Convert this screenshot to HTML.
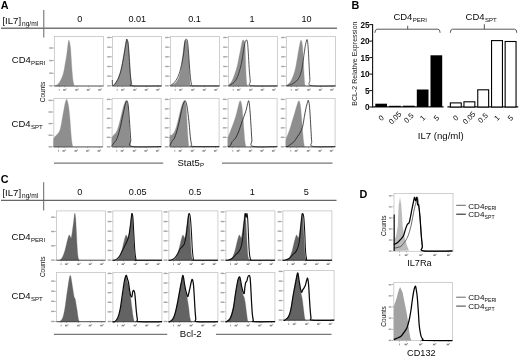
<!DOCTYPE html>
<html><head><meta charset="utf-8"><style>
html,body{margin:0;padding:0;background:#fff;width:520px;height:358px;overflow:hidden}
svg{display:block}
text{font-family:"Liberation Sans", sans-serif}
</style></head><body>
<svg width="520" height="358" viewBox="0 0 520 358">
<defs><filter id="bl" x="0" y="0" width="100%" height="100%"><feGaussianBlur stdDeviation="0.3"/></filter></defs>
<rect width="520" height="358" fill="#fff"/>
<g filter="url(#bl)">
<rect width="520" height="358" fill="#fff"/>
<text transform="translate(0.8,8.9) scale(1,1.0)" font-size="10.8" text-anchor="start" font-weight="bold" fill="#000" >A</text>
<text transform="translate(2.4,23.6) scale(1,1.0)" font-size="9.6" fill="#0a0a0a">[IL7]<tspan font-size="6.6" dx="0.9" dy="2.1">ng/ml</tspan></text>
<line x1="43.8" y1="10" x2="43.8" y2="37.5" stroke="#555" stroke-width="0.9"/>
<line x1="1" y1="28.2" x2="337" y2="28.2" stroke="#777" stroke-width="1.5"/>
<text transform="translate(79.8,22.1) scale(1,1.0)" font-size="9.1" text-anchor="middle" font-weight="normal" fill="#0a0a0a" >0</text>
<text transform="translate(137.3,22.1) scale(1,1.0)" font-size="9.1" text-anchor="middle" font-weight="normal" fill="#0a0a0a" >0.01</text>
<text transform="translate(194.6,22.1) scale(1,1.0)" font-size="9.1" text-anchor="middle" font-weight="normal" fill="#0a0a0a" >0.1</text>
<text transform="translate(252.0,22.1) scale(1,1.0)" font-size="9.1" text-anchor="middle" font-weight="normal" fill="#0a0a0a" >1</text>
<text transform="translate(306.6,22.1) scale(1,1.0)" font-size="9.1" text-anchor="middle" font-weight="normal" fill="#0a0a0a" >10</text>
<text transform="translate(11.8,62.8) scale(1,1.0)" font-size="9.5" fill="#0a0a0a">CD4<tspan font-size="6.1" dx="0.3" dy="2.0">PERI</tspan></text>
<text transform="translate(11.6,127.2) scale(1,1.0)" font-size="9.5" fill="#0a0a0a">CD4<tspan font-size="6.1" dx="0.3" dy="2.0">SPT</tspan></text>
<text transform="translate(44.6,92) rotate(-90)" font-size="6.5" text-anchor="middle" fill="#111">Counts</text>
<rect x="54.50" y="36.50" width="49" height="49.5" fill="none" stroke="#c4c4c4" stroke-width="0.8"/>
<rect x="49.20" y="85.10" width="3.4" height="1.4" fill="#a6a6a6"/>
<rect x="52.70" y="85.50" width="1.3" height="0.6" fill="#888"/>
<rect x="49.20" y="72.50" width="3.4" height="1.4" fill="#a6a6a6"/>
<rect x="52.70" y="72.90" width="1.3" height="0.6" fill="#888"/>
<rect x="49.20" y="59.90" width="3.4" height="1.4" fill="#a6a6a6"/>
<rect x="52.70" y="60.30" width="1.3" height="0.6" fill="#888"/>
<rect x="49.20" y="47.30" width="3.4" height="1.4" fill="#a6a6a6"/>
<rect x="52.70" y="47.70" width="1.3" height="0.6" fill="#888"/>
<rect x="58.75" y="88.90" width="0.9" height="1.8" fill="#999"/>
<rect x="58.95" y="86.00" width="0.5" height="1.3" fill="#888"/>
<rect x="63.10" y="89.10" width="2.5" height="1.6" fill="#8c8c8c"/><rect x="65.60" y="88.40" width="1.0" height="1.2" fill="#a0a0a0"/>
<rect x="64.55" y="86.00" width="0.5" height="1.3" fill="#888"/>
<rect x="75.20" y="89.10" width="2.5" height="1.6" fill="#8c8c8c"/><rect x="77.70" y="88.40" width="1.0" height="1.2" fill="#a0a0a0"/>
<rect x="76.65" y="86.00" width="0.5" height="1.3" fill="#888"/>
<rect x="86.80" y="89.10" width="2.5" height="1.6" fill="#8c8c8c"/><rect x="89.30" y="88.40" width="1.0" height="1.2" fill="#a0a0a0"/>
<rect x="88.25" y="86.00" width="0.5" height="1.3" fill="#888"/>
<rect x="98.30" y="89.10" width="2.5" height="1.6" fill="#8c8c8c"/><rect x="100.80" y="88.40" width="1.0" height="1.2" fill="#a0a0a0"/>
<rect x="99.75" y="86.00" width="0.5" height="1.3" fill="#888"/>
<path d="M54.30,86.00 C54.90,85.70 56.78,85.28 57.90,84.20 C59.02,83.12 60.08,81.33 61.00,79.50 C61.92,77.67 62.75,75.57 63.40,73.20 C64.05,70.83 64.38,68.17 64.90,65.30 C65.42,62.43 66.10,58.60 66.50,56.00 C66.90,53.40 66.92,52.32 67.30,49.70 C67.68,47.08 68.28,40.83 68.80,40.30 C69.32,39.77 70.00,43.63 70.40,46.50 C70.80,49.37 70.93,53.58 71.20,57.50 C71.47,61.42 71.68,66.08 72.00,70.00 C72.32,73.92 72.72,78.40 73.10,81.00 C73.48,83.60 74.10,84.83 74.30,85.60Z" fill="#8e8e8e" stroke="#8e8e8e" stroke-width="0.3" stroke-linejoin="round"/>
<line x1="54.5" y1="86" x2="103.5" y2="86" stroke="#444" stroke-width="0.8"/>
<rect x="112.50" y="36.50" width="49" height="49.5" fill="none" stroke="#c4c4c4" stroke-width="0.8"/>
<rect x="107.20" y="85.10" width="3.4" height="1.4" fill="#a6a6a6"/>
<rect x="110.70" y="85.50" width="1.3" height="0.6" fill="#888"/>
<rect x="107.20" y="75.44" width="3.4" height="1.4" fill="#a6a6a6"/>
<rect x="110.70" y="75.84" width="1.3" height="0.6" fill="#888"/>
<rect x="107.20" y="65.78" width="3.4" height="1.4" fill="#a6a6a6"/>
<rect x="110.70" y="66.18" width="1.3" height="0.6" fill="#888"/>
<rect x="107.20" y="56.12" width="3.4" height="1.4" fill="#a6a6a6"/>
<rect x="110.70" y="56.52" width="1.3" height="0.6" fill="#888"/>
<rect x="107.20" y="46.46" width="3.4" height="1.4" fill="#a6a6a6"/>
<rect x="110.70" y="46.86" width="1.3" height="0.6" fill="#888"/>
<rect x="107.20" y="36.80" width="3.4" height="1.4" fill="#a6a6a6"/>
<rect x="110.70" y="37.20" width="1.3" height="0.6" fill="#888"/>
<rect x="116.75" y="88.90" width="0.9" height="1.8" fill="#999"/>
<rect x="116.95" y="86.00" width="0.5" height="1.3" fill="#888"/>
<rect x="121.10" y="89.10" width="2.5" height="1.6" fill="#8c8c8c"/><rect x="123.60" y="88.40" width="1.0" height="1.2" fill="#a0a0a0"/>
<rect x="122.55" y="86.00" width="0.5" height="1.3" fill="#888"/>
<rect x="133.20" y="89.10" width="2.5" height="1.6" fill="#8c8c8c"/><rect x="135.70" y="88.40" width="1.0" height="1.2" fill="#a0a0a0"/>
<rect x="134.65" y="86.00" width="0.5" height="1.3" fill="#888"/>
<rect x="144.80" y="89.10" width="2.5" height="1.6" fill="#8c8c8c"/><rect x="147.30" y="88.40" width="1.0" height="1.2" fill="#a0a0a0"/>
<rect x="146.25" y="86.00" width="0.5" height="1.3" fill="#888"/>
<rect x="156.30" y="89.10" width="2.5" height="1.6" fill="#8c8c8c"/><rect x="158.80" y="88.40" width="1.0" height="1.2" fill="#a0a0a0"/>
<rect x="157.75" y="86.00" width="0.5" height="1.3" fill="#888"/>
<path d="M112.30,85.70 C112.63,85.45 113.45,85.23 114.30,84.20 C115.15,83.17 116.48,81.33 117.40,79.50 C118.32,77.67 119.13,75.30 119.80,73.20 C120.47,71.10 120.88,69.25 121.40,66.90 C121.92,64.55 122.38,61.97 122.90,59.10 C123.42,56.23 123.97,52.83 124.50,49.70 C125.03,46.57 125.70,42.00 126.10,40.30 C126.50,38.60 126.52,38.98 126.90,39.50 C127.28,40.02 127.97,40.40 128.40,43.40 C128.83,46.40 129.15,52.53 129.50,57.50 C129.85,62.47 130.15,69.02 130.50,73.20 C130.85,77.38 131.23,80.52 131.60,82.60 C131.97,84.68 132.52,85.18 132.70,85.70Z" fill="#8e8e8e" stroke="#8e8e8e" stroke-width="0.3" stroke-linejoin="round"/>
<line x1="112.5" y1="86" x2="161.5" y2="86" stroke="#444" stroke-width="0.8"/>
<path d="M112.30,80.00 C112.35,80.92 112.20,84.80 112.60,85.50 C113.00,86.20 113.83,85.20 114.70,84.20 C115.57,83.20 116.88,81.33 117.80,79.50 C118.72,77.67 119.53,75.30 120.20,73.20 C120.87,71.10 121.28,69.25 121.80,66.90 C122.32,64.55 122.78,61.97 123.30,59.10 C123.82,56.23 124.37,52.83 124.90,49.70 C125.43,46.57 126.15,42.02 126.50,40.30 C126.85,38.58 126.73,38.88 127.00,39.40 C127.27,39.92 127.73,40.38 128.10,43.40 C128.47,46.42 128.85,52.53 129.20,57.50 C129.55,62.47 129.85,69.02 130.20,73.20 C130.55,77.38 130.92,80.50 131.30,82.60 C131.68,84.70 127.47,85.25 132.50,85.80 C137.53,86.35 156.67,85.88 161.50,85.90" fill="none" stroke="#222" stroke-width="0.75" stroke-linejoin="round"/>
<rect x="170.50" y="36.50" width="49" height="49.5" fill="none" stroke="#c4c4c4" stroke-width="0.8"/>
<rect x="165.20" y="85.10" width="3.4" height="1.4" fill="#a6a6a6"/>
<rect x="168.70" y="85.50" width="1.3" height="0.6" fill="#888"/>
<rect x="165.20" y="75.44" width="3.4" height="1.4" fill="#a6a6a6"/>
<rect x="168.70" y="75.84" width="1.3" height="0.6" fill="#888"/>
<rect x="165.20" y="65.78" width="3.4" height="1.4" fill="#a6a6a6"/>
<rect x="168.70" y="66.18" width="1.3" height="0.6" fill="#888"/>
<rect x="165.20" y="56.12" width="3.4" height="1.4" fill="#a6a6a6"/>
<rect x="168.70" y="56.52" width="1.3" height="0.6" fill="#888"/>
<rect x="165.20" y="46.46" width="3.4" height="1.4" fill="#a6a6a6"/>
<rect x="168.70" y="46.86" width="1.3" height="0.6" fill="#888"/>
<rect x="165.20" y="36.80" width="3.4" height="1.4" fill="#a6a6a6"/>
<rect x="168.70" y="37.20" width="1.3" height="0.6" fill="#888"/>
<rect x="174.75" y="88.90" width="0.9" height="1.8" fill="#999"/>
<rect x="174.95" y="86.00" width="0.5" height="1.3" fill="#888"/>
<rect x="179.10" y="89.10" width="2.5" height="1.6" fill="#8c8c8c"/><rect x="181.60" y="88.40" width="1.0" height="1.2" fill="#a0a0a0"/>
<rect x="180.55" y="86.00" width="0.5" height="1.3" fill="#888"/>
<rect x="191.20" y="89.10" width="2.5" height="1.6" fill="#8c8c8c"/><rect x="193.70" y="88.40" width="1.0" height="1.2" fill="#a0a0a0"/>
<rect x="192.65" y="86.00" width="0.5" height="1.3" fill="#888"/>
<rect x="202.80" y="89.10" width="2.5" height="1.6" fill="#8c8c8c"/><rect x="205.30" y="88.40" width="1.0" height="1.2" fill="#a0a0a0"/>
<rect x="204.25" y="86.00" width="0.5" height="1.3" fill="#888"/>
<rect x="214.30" y="89.10" width="2.5" height="1.6" fill="#8c8c8c"/><rect x="216.80" y="88.40" width="1.0" height="1.2" fill="#a0a0a0"/>
<rect x="215.75" y="86.00" width="0.5" height="1.3" fill="#888"/>
<path d="M170.30,85.70 C170.90,85.42 172.78,84.78 173.90,84.00 C175.02,83.22 175.97,82.80 177.00,81.00 C178.03,79.20 179.18,77.12 180.10,73.20 C181.02,69.28 181.83,62.37 182.50,57.50 C183.17,52.63 183.52,46.92 184.10,44.00 C184.68,41.08 185.42,39.67 186.00,40.00 C186.58,40.33 187.12,42.67 187.60,46.00 C188.08,49.33 188.57,55.47 188.90,60.00 C189.23,64.53 189.37,68.92 189.60,73.20 C189.83,77.48 190.18,83.62 190.30,85.70Z" fill="#8e8e8e" stroke="#8e8e8e" stroke-width="0.3" stroke-linejoin="round"/>
<line x1="170.5" y1="86" x2="219.5" y2="86" stroke="#444" stroke-width="0.8"/>
<path d="M170.40,85.70 C171.05,85.18 173.13,83.90 174.30,82.60 C175.47,81.30 176.48,79.73 177.40,77.90 C178.32,76.07 179.02,74.22 179.80,71.60 C180.58,68.98 181.45,65.33 182.10,62.20 C182.75,59.07 183.23,56.20 183.70,52.80 C184.17,49.40 184.57,44.02 184.90,41.80 C185.23,39.58 185.33,39.80 185.70,39.50 C186.07,39.20 186.70,38.83 187.10,40.00 C187.50,41.17 187.75,42.80 188.10,46.50 C188.45,50.20 188.83,57.23 189.20,62.20 C189.57,67.17 189.92,72.63 190.30,76.30 C190.68,79.97 191.08,82.62 191.50,84.20 C191.92,85.78 188.13,85.52 192.80,85.80 C197.47,86.08 215.05,85.88 219.50,85.90" fill="none" stroke="#222" stroke-width="0.75" stroke-linejoin="round"/>
<rect x="228.50" y="36.50" width="49" height="49.5" fill="none" stroke="#c4c4c4" stroke-width="0.8"/>
<rect x="223.20" y="85.10" width="3.4" height="1.4" fill="#a6a6a6"/>
<rect x="226.70" y="85.50" width="1.3" height="0.6" fill="#888"/>
<rect x="223.20" y="75.44" width="3.4" height="1.4" fill="#a6a6a6"/>
<rect x="226.70" y="75.84" width="1.3" height="0.6" fill="#888"/>
<rect x="223.20" y="65.78" width="3.4" height="1.4" fill="#a6a6a6"/>
<rect x="226.70" y="66.18" width="1.3" height="0.6" fill="#888"/>
<rect x="223.20" y="56.12" width="3.4" height="1.4" fill="#a6a6a6"/>
<rect x="226.70" y="56.52" width="1.3" height="0.6" fill="#888"/>
<rect x="223.20" y="46.46" width="3.4" height="1.4" fill="#a6a6a6"/>
<rect x="226.70" y="46.86" width="1.3" height="0.6" fill="#888"/>
<rect x="223.20" y="36.80" width="3.4" height="1.4" fill="#a6a6a6"/>
<rect x="226.70" y="37.20" width="1.3" height="0.6" fill="#888"/>
<rect x="232.75" y="88.90" width="0.9" height="1.8" fill="#999"/>
<rect x="232.95" y="86.00" width="0.5" height="1.3" fill="#888"/>
<rect x="237.10" y="89.10" width="2.5" height="1.6" fill="#8c8c8c"/><rect x="239.60" y="88.40" width="1.0" height="1.2" fill="#a0a0a0"/>
<rect x="238.55" y="86.00" width="0.5" height="1.3" fill="#888"/>
<rect x="249.20" y="89.10" width="2.5" height="1.6" fill="#8c8c8c"/><rect x="251.70" y="88.40" width="1.0" height="1.2" fill="#a0a0a0"/>
<rect x="250.65" y="86.00" width="0.5" height="1.3" fill="#888"/>
<rect x="260.80" y="89.10" width="2.5" height="1.6" fill="#8c8c8c"/><rect x="263.30" y="88.40" width="1.0" height="1.2" fill="#a0a0a0"/>
<rect x="262.25" y="86.00" width="0.5" height="1.3" fill="#888"/>
<rect x="272.30" y="89.10" width="2.5" height="1.6" fill="#8c8c8c"/><rect x="274.80" y="88.40" width="1.0" height="1.2" fill="#a0a0a0"/>
<rect x="273.75" y="86.00" width="0.5" height="1.3" fill="#888"/>
<path d="M228.30,85.70 C228.90,84.92 230.78,83.08 231.90,81.00 C233.02,78.92 234.08,75.82 235.00,73.20 C235.92,70.58 236.75,67.92 237.40,65.30 C238.05,62.68 238.38,60.10 238.90,57.50 C239.42,54.90 239.97,52.32 240.50,49.70 C241.03,47.08 241.65,43.42 242.10,41.80 C242.55,40.18 242.73,39.73 243.20,40.00 C243.67,40.27 244.52,40.48 244.90,43.40 C245.28,46.32 245.32,52.53 245.50,57.50 C245.68,62.47 245.78,68.75 246.00,73.20 C246.22,77.65 246.53,82.12 246.80,84.20 C247.07,86.28 247.47,85.45 247.60,85.70Z" fill="#8e8e8e" stroke="#8e8e8e" stroke-width="0.3" stroke-linejoin="round"/>
<line x1="228.5" y1="86" x2="277.5" y2="86" stroke="#444" stroke-width="0.8"/>
<path d="M228.60,85.70 C229.47,85.18 232.40,83.90 233.80,82.60 C235.20,81.30 236.08,79.73 237.00,77.90 C237.92,76.07 238.52,74.22 239.30,71.60 C240.08,68.98 241.05,65.33 241.70,62.20 C242.35,59.07 242.73,55.67 243.20,52.80 C243.67,49.93 244.10,46.97 244.50,45.00 C244.90,43.03 245.23,41.83 245.60,41.00 C245.97,40.17 246.37,39.60 246.70,40.00 C247.03,40.40 247.33,41.27 247.60,43.40 C247.87,45.53 248.03,48.62 248.30,52.80 C248.57,56.98 248.87,63.80 249.20,68.50 C249.53,73.20 249.93,78.15 250.30,81.00 C250.67,83.85 246.87,84.78 251.40,85.60 C255.93,86.42 273.15,85.85 277.50,85.90" fill="none" stroke="#222" stroke-width="0.75" stroke-linejoin="round"/>
<rect x="286.50" y="36.50" width="49" height="49.5" fill="none" stroke="#c4c4c4" stroke-width="0.8"/>
<rect x="281.20" y="85.10" width="3.4" height="1.4" fill="#a6a6a6"/>
<rect x="284.70" y="85.50" width="1.3" height="0.6" fill="#888"/>
<rect x="281.20" y="75.44" width="3.4" height="1.4" fill="#a6a6a6"/>
<rect x="284.70" y="75.84" width="1.3" height="0.6" fill="#888"/>
<rect x="281.20" y="65.78" width="3.4" height="1.4" fill="#a6a6a6"/>
<rect x="284.70" y="66.18" width="1.3" height="0.6" fill="#888"/>
<rect x="281.20" y="56.12" width="3.4" height="1.4" fill="#a6a6a6"/>
<rect x="284.70" y="56.52" width="1.3" height="0.6" fill="#888"/>
<rect x="281.20" y="46.46" width="3.4" height="1.4" fill="#a6a6a6"/>
<rect x="284.70" y="46.86" width="1.3" height="0.6" fill="#888"/>
<rect x="281.20" y="36.80" width="3.4" height="1.4" fill="#a6a6a6"/>
<rect x="284.70" y="37.20" width="1.3" height="0.6" fill="#888"/>
<rect x="290.75" y="88.90" width="0.9" height="1.8" fill="#999"/>
<rect x="290.95" y="86.00" width="0.5" height="1.3" fill="#888"/>
<rect x="295.10" y="89.10" width="2.5" height="1.6" fill="#8c8c8c"/><rect x="297.60" y="88.40" width="1.0" height="1.2" fill="#a0a0a0"/>
<rect x="296.55" y="86.00" width="0.5" height="1.3" fill="#888"/>
<rect x="307.20" y="89.10" width="2.5" height="1.6" fill="#8c8c8c"/><rect x="309.70" y="88.40" width="1.0" height="1.2" fill="#a0a0a0"/>
<rect x="308.65" y="86.00" width="0.5" height="1.3" fill="#888"/>
<rect x="318.80" y="89.10" width="2.5" height="1.6" fill="#8c8c8c"/><rect x="321.30" y="88.40" width="1.0" height="1.2" fill="#a0a0a0"/>
<rect x="320.25" y="86.00" width="0.5" height="1.3" fill="#888"/>
<rect x="330.30" y="89.10" width="2.5" height="1.6" fill="#8c8c8c"/><rect x="332.80" y="88.40" width="1.0" height="1.2" fill="#a0a0a0"/>
<rect x="331.75" y="86.00" width="0.5" height="1.3" fill="#888"/>
<path d="M286.30,85.70 C286.90,85.18 288.78,84.17 289.90,82.60 C291.02,81.03 292.08,78.65 293.00,76.30 C293.92,73.95 294.67,71.63 295.40,68.50 C296.13,65.37 296.80,60.90 297.40,57.50 C298.00,54.10 298.42,50.97 299.00,48.10 C299.58,45.23 300.33,40.82 300.90,40.30 C301.47,39.78 302.02,42.13 302.40,45.00 C302.78,47.87 302.93,52.80 303.20,57.50 C303.47,62.20 303.73,68.75 304.00,73.20 C304.27,77.65 304.53,82.12 304.80,84.20 C305.07,86.28 305.47,85.45 305.60,85.70Z" fill="#8e8e8e" stroke="#8e8e8e" stroke-width="0.3" stroke-linejoin="round"/>
<line x1="286.5" y1="86" x2="335.5" y2="86" stroke="#444" stroke-width="0.8"/>
<path d="M286.40,85.70 C287.30,85.45 290.12,84.98 291.80,84.20 C293.48,83.42 295.18,82.32 296.50,81.00 C297.82,79.68 298.78,78.38 299.70,76.30 C300.62,74.22 301.35,71.63 302.00,68.50 C302.65,65.37 303.07,61.17 303.60,57.50 C304.13,53.83 304.68,49.42 305.20,46.50 C305.72,43.58 306.32,40.92 306.70,40.00 C307.08,39.08 307.23,39.38 307.50,41.00 C307.77,42.62 308.03,45.65 308.30,49.70 C308.57,53.75 308.83,60.33 309.10,65.30 C309.37,70.27 309.58,76.12 309.90,79.50 C310.22,82.88 306.73,84.53 311.00,85.60 C315.27,86.67 331.42,85.85 335.50,85.90" fill="none" stroke="#222" stroke-width="0.75" stroke-linejoin="round"/>
<rect x="53.80" y="98.40" width="49" height="48.6" fill="none" stroke="#c4c4c4" stroke-width="0.8"/>
<rect x="48.50" y="146.10" width="3.4" height="1.4" fill="#a6a6a6"/>
<rect x="52.00" y="146.50" width="1.3" height="0.6" fill="#888"/>
<rect x="48.50" y="134.50" width="3.4" height="1.4" fill="#a6a6a6"/>
<rect x="52.00" y="134.90" width="1.3" height="0.6" fill="#888"/>
<rect x="48.50" y="122.90" width="3.4" height="1.4" fill="#a6a6a6"/>
<rect x="52.00" y="123.30" width="1.3" height="0.6" fill="#888"/>
<rect x="48.50" y="111.30" width="3.4" height="1.4" fill="#a6a6a6"/>
<rect x="52.00" y="111.70" width="1.3" height="0.6" fill="#888"/>
<rect x="48.50" y="99.70" width="3.4" height="1.4" fill="#a6a6a6"/>
<rect x="52.00" y="100.10" width="1.3" height="0.6" fill="#888"/>
<rect x="58.05" y="149.90" width="0.9" height="1.8" fill="#999"/>
<rect x="58.25" y="147.00" width="0.5" height="1.3" fill="#888"/>
<rect x="62.40" y="150.10" width="2.5" height="1.6" fill="#8c8c8c"/><rect x="64.90" y="149.40" width="1.0" height="1.2" fill="#a0a0a0"/>
<rect x="63.85" y="147.00" width="0.5" height="1.3" fill="#888"/>
<rect x="74.50" y="150.10" width="2.5" height="1.6" fill="#8c8c8c"/><rect x="77.00" y="149.40" width="1.0" height="1.2" fill="#a0a0a0"/>
<rect x="75.95" y="147.00" width="0.5" height="1.3" fill="#888"/>
<rect x="86.10" y="150.10" width="2.5" height="1.6" fill="#8c8c8c"/><rect x="88.60" y="149.40" width="1.0" height="1.2" fill="#a0a0a0"/>
<rect x="87.55" y="147.00" width="0.5" height="1.3" fill="#888"/>
<rect x="97.60" y="150.10" width="2.5" height="1.6" fill="#8c8c8c"/><rect x="100.10" y="149.40" width="1.0" height="1.2" fill="#a0a0a0"/>
<rect x="99.05" y="147.00" width="0.5" height="1.3" fill="#888"/>
<path d="M53.60,146.90 C53.60,145.73 53.42,141.58 53.60,139.90 C53.78,138.22 54.12,137.72 54.70,136.80 C55.28,135.88 56.32,135.32 57.10,134.40 C57.88,133.48 58.75,132.73 59.40,131.30 C60.05,129.87 60.47,128.28 61.00,125.80 C61.53,123.32 62.08,119.28 62.60,116.40 C63.12,113.52 63.63,110.85 64.10,108.50 C64.57,106.15 64.93,103.82 65.40,102.30 C65.87,100.78 66.45,99.15 66.90,99.40 C67.35,99.65 67.77,102.28 68.10,103.80 C68.43,105.32 68.58,105.88 68.90,108.50 C69.22,111.12 69.67,115.58 70.00,119.50 C70.33,123.42 70.60,128.33 70.90,132.00 C71.20,135.67 71.48,139.03 71.80,141.50 C72.12,143.97 72.63,145.92 72.80,146.80Z" fill="#8e8e8e" stroke="#8e8e8e" stroke-width="0.3" stroke-linejoin="round"/>
<line x1="53.8" y1="146.9" x2="102.8" y2="146.9" stroke="#444" stroke-width="0.8"/>
<rect x="112.10" y="98.40" width="49" height="48.6" fill="none" stroke="#c4c4c4" stroke-width="0.8"/>
<rect x="106.80" y="146.10" width="3.4" height="1.4" fill="#a6a6a6"/>
<rect x="110.30" y="146.50" width="1.3" height="0.6" fill="#888"/>
<rect x="106.80" y="136.62" width="3.4" height="1.4" fill="#a6a6a6"/>
<rect x="110.30" y="137.02" width="1.3" height="0.6" fill="#888"/>
<rect x="106.80" y="127.14" width="3.4" height="1.4" fill="#a6a6a6"/>
<rect x="110.30" y="127.54" width="1.3" height="0.6" fill="#888"/>
<rect x="106.80" y="117.66" width="3.4" height="1.4" fill="#a6a6a6"/>
<rect x="110.30" y="118.06" width="1.3" height="0.6" fill="#888"/>
<rect x="106.80" y="108.18" width="3.4" height="1.4" fill="#a6a6a6"/>
<rect x="110.30" y="108.58" width="1.3" height="0.6" fill="#888"/>
<rect x="106.80" y="98.70" width="3.4" height="1.4" fill="#a6a6a6"/>
<rect x="110.30" y="99.10" width="1.3" height="0.6" fill="#888"/>
<rect x="116.35" y="149.90" width="0.9" height="1.8" fill="#999"/>
<rect x="116.55" y="147.00" width="0.5" height="1.3" fill="#888"/>
<rect x="120.70" y="150.10" width="2.5" height="1.6" fill="#8c8c8c"/><rect x="123.20" y="149.40" width="1.0" height="1.2" fill="#a0a0a0"/>
<rect x="122.15" y="147.00" width="0.5" height="1.3" fill="#888"/>
<rect x="132.80" y="150.10" width="2.5" height="1.6" fill="#8c8c8c"/><rect x="135.30" y="149.40" width="1.0" height="1.2" fill="#a0a0a0"/>
<rect x="134.25" y="147.00" width="0.5" height="1.3" fill="#888"/>
<rect x="144.40" y="150.10" width="2.5" height="1.6" fill="#8c8c8c"/><rect x="146.90" y="149.40" width="1.0" height="1.2" fill="#a0a0a0"/>
<rect x="145.85" y="147.00" width="0.5" height="1.3" fill="#888"/>
<rect x="155.90" y="150.10" width="2.5" height="1.6" fill="#8c8c8c"/><rect x="158.40" y="149.40" width="1.0" height="1.2" fill="#a0a0a0"/>
<rect x="157.35" y="147.00" width="0.5" height="1.3" fill="#888"/>
<path d="M111.90,146.90 C111.90,145.47 111.63,140.25 111.90,138.30 C112.17,136.35 112.83,136.12 113.50,135.20 C114.17,134.28 115.12,134.12 115.90,132.80 C116.68,131.48 117.42,129.77 118.20,127.30 C118.98,124.83 119.82,121.13 120.60,118.00 C121.38,114.87 122.17,111.12 122.90,108.50 C123.63,105.88 124.40,103.60 125.00,102.30 C125.60,101.00 126.00,100.18 126.50,100.70 C127.00,101.22 127.60,102.27 128.00,105.40 C128.40,108.53 128.60,114.53 128.90,119.50 C129.20,124.47 129.48,130.65 129.80,135.20 C130.12,139.75 130.63,144.87 130.80,146.80Z" fill="#8e8e8e" stroke="#8e8e8e" stroke-width="0.3" stroke-linejoin="round"/>
<line x1="112.1" y1="146.9" x2="161.1" y2="146.9" stroke="#444" stroke-width="0.8"/>
<path d="M111.60,146.20 C111.98,145.67 113.12,144.05 113.90,143.00 C114.68,141.95 115.52,141.47 116.30,139.90 C117.08,138.33 117.82,136.22 118.60,133.60 C119.38,130.98 120.22,127.60 121.00,124.20 C121.78,120.80 122.57,116.60 123.30,113.20 C124.03,109.80 124.80,105.88 125.40,103.80 C126.00,101.72 126.47,100.70 126.90,100.70 C127.33,100.70 127.68,101.97 128.00,103.80 C128.32,105.63 128.48,107.78 128.80,111.70 C129.12,115.62 129.57,122.60 129.90,127.30 C130.23,132.00 130.47,136.72 130.80,139.90 C131.13,143.08 126.82,145.30 131.90,146.40 C136.98,147.50 156.40,146.48 161.30,146.50" fill="none" stroke="#1a1a1a" stroke-width="0.8" stroke-linejoin="round"/>
<rect x="170.10" y="98.40" width="49" height="48.6" fill="none" stroke="#c4c4c4" stroke-width="0.8"/>
<rect x="164.80" y="146.10" width="3.4" height="1.4" fill="#a6a6a6"/>
<rect x="168.30" y="146.50" width="1.3" height="0.6" fill="#888"/>
<rect x="164.80" y="136.62" width="3.4" height="1.4" fill="#a6a6a6"/>
<rect x="168.30" y="137.02" width="1.3" height="0.6" fill="#888"/>
<rect x="164.80" y="127.14" width="3.4" height="1.4" fill="#a6a6a6"/>
<rect x="168.30" y="127.54" width="1.3" height="0.6" fill="#888"/>
<rect x="164.80" y="117.66" width="3.4" height="1.4" fill="#a6a6a6"/>
<rect x="168.30" y="118.06" width="1.3" height="0.6" fill="#888"/>
<rect x="164.80" y="108.18" width="3.4" height="1.4" fill="#a6a6a6"/>
<rect x="168.30" y="108.58" width="1.3" height="0.6" fill="#888"/>
<rect x="164.80" y="98.70" width="3.4" height="1.4" fill="#a6a6a6"/>
<rect x="168.30" y="99.10" width="1.3" height="0.6" fill="#888"/>
<rect x="174.35" y="149.90" width="0.9" height="1.8" fill="#999"/>
<rect x="174.55" y="147.00" width="0.5" height="1.3" fill="#888"/>
<rect x="178.70" y="150.10" width="2.5" height="1.6" fill="#8c8c8c"/><rect x="181.20" y="149.40" width="1.0" height="1.2" fill="#a0a0a0"/>
<rect x="180.15" y="147.00" width="0.5" height="1.3" fill="#888"/>
<rect x="190.80" y="150.10" width="2.5" height="1.6" fill="#8c8c8c"/><rect x="193.30" y="149.40" width="1.0" height="1.2" fill="#a0a0a0"/>
<rect x="192.25" y="147.00" width="0.5" height="1.3" fill="#888"/>
<rect x="202.40" y="150.10" width="2.5" height="1.6" fill="#8c8c8c"/><rect x="204.90" y="149.40" width="1.0" height="1.2" fill="#a0a0a0"/>
<rect x="203.85" y="147.00" width="0.5" height="1.3" fill="#888"/>
<rect x="213.90" y="150.10" width="2.5" height="1.6" fill="#8c8c8c"/><rect x="216.40" y="149.40" width="1.0" height="1.2" fill="#a0a0a0"/>
<rect x="215.35" y="147.00" width="0.5" height="1.3" fill="#888"/>
<path d="M169.90,146.90 C169.90,145.08 169.63,137.95 169.90,136.00 C170.17,134.05 170.83,135.73 171.50,135.20 C172.17,134.67 173.12,134.12 173.90,132.80 C174.68,131.48 175.42,129.77 176.20,127.30 C176.98,124.83 177.82,121.13 178.60,118.00 C179.38,114.87 180.17,111.12 180.90,108.50 C181.63,105.88 182.40,103.55 183.00,102.30 C183.60,101.05 184.00,100.48 184.50,101.00 C185.00,101.52 185.60,102.32 186.00,105.40 C186.40,108.48 186.60,114.53 186.90,119.50 C187.20,124.47 187.48,130.65 187.80,135.20 C188.12,139.75 188.63,144.87 188.80,146.80Z" fill="#8e8e8e" stroke="#8e8e8e" stroke-width="0.3" stroke-linejoin="round"/>
<line x1="170.1" y1="146.9" x2="219.1" y2="146.9" stroke="#444" stroke-width="0.8"/>
<path d="M169.60,146.20 C169.98,145.42 171.12,142.82 171.90,141.50 C172.68,140.18 173.52,139.88 174.30,138.30 C175.08,136.72 175.82,134.62 176.60,132.00 C177.38,129.38 178.22,125.98 179.00,122.60 C179.78,119.22 180.65,114.57 181.30,111.70 C181.95,108.83 182.37,107.10 182.90,105.40 C183.43,103.70 184.12,102.28 184.50,101.50 C184.88,100.72 184.87,100.32 185.20,100.70 C185.53,101.08 186.07,101.97 186.50,103.80 C186.93,105.63 187.35,108.30 187.80,111.70 C188.25,115.10 188.78,120.02 189.20,124.20 C189.62,128.38 189.90,133.40 190.30,136.80 C190.70,140.20 191.18,143.00 191.60,144.60 C192.02,146.20 188.18,146.08 192.80,146.40 C197.42,146.72 214.88,146.48 219.30,146.50" fill="none" stroke="#1a1a1a" stroke-width="0.8" stroke-linejoin="round"/>
<rect x="228.10" y="98.40" width="49" height="48.6" fill="none" stroke="#c4c4c4" stroke-width="0.8"/>
<rect x="222.80" y="146.10" width="3.4" height="1.4" fill="#a6a6a6"/>
<rect x="226.30" y="146.50" width="1.3" height="0.6" fill="#888"/>
<rect x="222.80" y="136.62" width="3.4" height="1.4" fill="#a6a6a6"/>
<rect x="226.30" y="137.02" width="1.3" height="0.6" fill="#888"/>
<rect x="222.80" y="127.14" width="3.4" height="1.4" fill="#a6a6a6"/>
<rect x="226.30" y="127.54" width="1.3" height="0.6" fill="#888"/>
<rect x="222.80" y="117.66" width="3.4" height="1.4" fill="#a6a6a6"/>
<rect x="226.30" y="118.06" width="1.3" height="0.6" fill="#888"/>
<rect x="222.80" y="108.18" width="3.4" height="1.4" fill="#a6a6a6"/>
<rect x="226.30" y="108.58" width="1.3" height="0.6" fill="#888"/>
<rect x="222.80" y="98.70" width="3.4" height="1.4" fill="#a6a6a6"/>
<rect x="226.30" y="99.10" width="1.3" height="0.6" fill="#888"/>
<rect x="232.35" y="149.90" width="0.9" height="1.8" fill="#999"/>
<rect x="232.55" y="147.00" width="0.5" height="1.3" fill="#888"/>
<rect x="236.70" y="150.10" width="2.5" height="1.6" fill="#8c8c8c"/><rect x="239.20" y="149.40" width="1.0" height="1.2" fill="#a0a0a0"/>
<rect x="238.15" y="147.00" width="0.5" height="1.3" fill="#888"/>
<rect x="248.80" y="150.10" width="2.5" height="1.6" fill="#8c8c8c"/><rect x="251.30" y="149.40" width="1.0" height="1.2" fill="#a0a0a0"/>
<rect x="250.25" y="147.00" width="0.5" height="1.3" fill="#888"/>
<rect x="260.40" y="150.10" width="2.5" height="1.6" fill="#8c8c8c"/><rect x="262.90" y="149.40" width="1.0" height="1.2" fill="#a0a0a0"/>
<rect x="261.85" y="147.00" width="0.5" height="1.3" fill="#888"/>
<rect x="271.90" y="150.10" width="2.5" height="1.6" fill="#8c8c8c"/><rect x="274.40" y="149.40" width="1.0" height="1.2" fill="#a0a0a0"/>
<rect x="273.35" y="147.00" width="0.5" height="1.3" fill="#888"/>
<path d="M227.90,146.90 C227.90,145.47 227.63,140.52 227.90,138.30 C228.17,136.08 228.83,135.43 229.50,133.60 C230.17,131.77 231.12,129.38 231.90,127.30 C232.68,125.22 233.42,123.45 234.20,121.10 C234.98,118.75 235.95,115.55 236.60,113.20 C237.25,110.85 237.52,109.08 238.10,107.00 C238.68,104.92 239.48,100.97 240.10,100.70 C240.72,100.43 241.33,102.78 241.80,105.40 C242.27,108.02 242.53,112.22 242.90,116.40 C243.27,120.58 243.67,126.32 244.00,130.50 C244.33,134.68 244.57,138.78 244.90,141.50 C245.23,144.22 245.82,145.92 246.00,146.80Z" fill="#8e8e8e" stroke="#8e8e8e" stroke-width="0.3" stroke-linejoin="round"/>
<line x1="228.1" y1="146.9" x2="277.1" y2="146.9" stroke="#444" stroke-width="0.8"/>
<path d="M227.60,146.20 C227.98,146.20 229.12,146.98 229.90,146.20 C230.68,145.42 231.38,142.82 232.30,141.50 C233.22,140.18 234.37,139.88 235.40,138.30 C236.43,136.72 237.45,134.62 238.50,132.00 C239.55,129.38 240.78,125.20 241.70,122.60 C242.62,120.00 243.35,118.22 244.00,116.40 C244.65,114.58 245.15,113.13 245.60,111.70 C246.05,110.27 246.37,109.12 246.70,107.80 C247.03,106.48 247.27,104.98 247.60,103.80 C247.93,102.62 248.38,100.43 248.70,100.70 C249.02,100.97 249.23,103.05 249.50,105.40 C249.77,107.75 250.03,111.15 250.30,114.80 C250.57,118.45 250.83,123.12 251.10,127.30 C251.37,131.48 251.58,136.72 251.90,139.90 C252.22,143.08 248.77,145.30 253.00,146.40 C257.23,147.50 273.25,146.48 277.30,146.50" fill="none" stroke="#1a1a1a" stroke-width="0.8" stroke-linejoin="round"/>
<rect x="286.10" y="98.40" width="49" height="48.6" fill="none" stroke="#c4c4c4" stroke-width="0.8"/>
<rect x="280.80" y="146.10" width="3.4" height="1.4" fill="#a6a6a6"/>
<rect x="284.30" y="146.50" width="1.3" height="0.6" fill="#888"/>
<rect x="280.80" y="136.62" width="3.4" height="1.4" fill="#a6a6a6"/>
<rect x="284.30" y="137.02" width="1.3" height="0.6" fill="#888"/>
<rect x="280.80" y="127.14" width="3.4" height="1.4" fill="#a6a6a6"/>
<rect x="284.30" y="127.54" width="1.3" height="0.6" fill="#888"/>
<rect x="280.80" y="117.66" width="3.4" height="1.4" fill="#a6a6a6"/>
<rect x="284.30" y="118.06" width="1.3" height="0.6" fill="#888"/>
<rect x="280.80" y="108.18" width="3.4" height="1.4" fill="#a6a6a6"/>
<rect x="284.30" y="108.58" width="1.3" height="0.6" fill="#888"/>
<rect x="280.80" y="98.70" width="3.4" height="1.4" fill="#a6a6a6"/>
<rect x="284.30" y="99.10" width="1.3" height="0.6" fill="#888"/>
<rect x="290.35" y="149.90" width="0.9" height="1.8" fill="#999"/>
<rect x="290.55" y="147.00" width="0.5" height="1.3" fill="#888"/>
<rect x="294.70" y="150.10" width="2.5" height="1.6" fill="#8c8c8c"/><rect x="297.20" y="149.40" width="1.0" height="1.2" fill="#a0a0a0"/>
<rect x="296.15" y="147.00" width="0.5" height="1.3" fill="#888"/>
<rect x="306.80" y="150.10" width="2.5" height="1.6" fill="#8c8c8c"/><rect x="309.30" y="149.40" width="1.0" height="1.2" fill="#a0a0a0"/>
<rect x="308.25" y="147.00" width="0.5" height="1.3" fill="#888"/>
<rect x="318.40" y="150.10" width="2.5" height="1.6" fill="#8c8c8c"/><rect x="320.90" y="149.40" width="1.0" height="1.2" fill="#a0a0a0"/>
<rect x="319.85" y="147.00" width="0.5" height="1.3" fill="#888"/>
<rect x="329.90" y="150.10" width="2.5" height="1.6" fill="#8c8c8c"/><rect x="332.40" y="149.40" width="1.0" height="1.2" fill="#a0a0a0"/>
<rect x="331.35" y="147.00" width="0.5" height="1.3" fill="#888"/>
<path d="M285.90,146.90 C285.90,145.73 285.63,141.85 285.90,139.90 C286.17,137.95 286.83,137.03 287.50,135.20 C288.17,133.37 289.12,131.25 289.90,128.90 C290.68,126.55 291.42,123.72 292.20,121.10 C292.98,118.48 293.82,115.82 294.60,113.20 C295.38,110.58 296.18,107.48 296.90,105.40 C297.62,103.32 298.32,100.70 298.90,100.70 C299.48,100.70 299.95,102.52 300.40,105.40 C300.85,108.28 301.22,113.57 301.60,118.00 C301.98,122.43 302.33,127.83 302.70,132.00 C303.07,136.17 303.45,140.52 303.80,143.00 C304.15,145.48 304.63,146.25 304.80,146.90Z" fill="#8e8e8e" stroke="#8e8e8e" stroke-width="0.3" stroke-linejoin="round"/>
<line x1="286.1" y1="146.9" x2="335.1" y2="146.9" stroke="#444" stroke-width="0.8"/>
<path d="M285.60,146.50 C285.98,146.48 287.12,146.72 287.90,146.40 C288.68,146.08 289.25,145.42 290.30,144.60 C291.35,143.78 293.03,142.80 294.20,141.50 C295.37,140.20 296.25,138.38 297.30,136.80 C298.35,135.22 299.58,133.83 300.50,132.00 C301.42,130.17 302.15,128.40 302.80,125.80 C303.45,123.20 303.88,119.28 304.40,116.40 C304.92,113.52 305.38,110.85 305.90,108.50 C306.42,106.15 307.10,103.65 307.50,102.30 C307.90,100.95 307.98,99.88 308.30,100.40 C308.62,100.92 309.08,102.73 309.40,105.40 C309.72,108.07 309.93,112.22 310.20,116.40 C310.47,120.58 310.75,126.32 311.00,130.50 C311.25,134.68 311.42,138.85 311.70,141.50 C311.98,144.15 308.77,145.57 312.70,146.40 C316.63,147.23 331.53,146.48 335.30,146.50" fill="none" stroke="#1a1a1a" stroke-width="0.8" stroke-linejoin="round"/>
<line x1="54" y1="163.2" x2="163.2" y2="163.2" stroke="#777" stroke-width="1.2"/>
<line x1="222" y1="163.2" x2="332.5" y2="163.2" stroke="#777" stroke-width="1.2"/>
<text transform="translate(177.5,166.2) scale(1,1.0)" font-size="9.5" fill="#0a0a0a">Stat5<tspan font-size="6.2" dx="0.4" dy="0.8">P</tspan></text>
<text transform="translate(0.8,182.6) scale(1,1.0)" font-size="10.8" text-anchor="start" font-weight="bold" fill="#000" >C</text>
<text transform="translate(2.4,196) scale(1,1.0)" font-size="9.6" fill="#0a0a0a">[IL7]<tspan font-size="6.6" dx="0.9" dy="2.1">ng/ml</tspan></text>
<line x1="43.7" y1="182.2" x2="43.7" y2="210.5" stroke="#555" stroke-width="0.9"/>
<line x1="1" y1="200.3" x2="336.5" y2="200.3" stroke="#666" stroke-width="1.3"/>
<text transform="translate(79.8,194.8) scale(1,1.0)" font-size="9.1" text-anchor="middle" font-weight="normal" fill="#0a0a0a" >0</text>
<text transform="translate(137.7,194.8) scale(1,1.0)" font-size="9.1" text-anchor="middle" font-weight="normal" fill="#0a0a0a" >0.05</text>
<text transform="translate(195.0,194.8) scale(1,1.0)" font-size="9.1" text-anchor="middle" font-weight="normal" fill="#0a0a0a" >0.5</text>
<text transform="translate(252.3,194.8) scale(1,1.0)" font-size="9.1" text-anchor="middle" font-weight="normal" fill="#0a0a0a" >1</text>
<text transform="translate(306.2,194.8) scale(1,1.0)" font-size="9.1" text-anchor="middle" font-weight="normal" fill="#0a0a0a" >5</text>
<text transform="translate(11.6,240.3) scale(1,1.0)" font-size="9.5" fill="#0a0a0a">CD4<tspan font-size="6.1" dx="0.3" dy="2.0">PERI</tspan></text>
<text transform="translate(11.6,298.8) scale(1,1.0)" font-size="9.5" fill="#0a0a0a">CD4<tspan font-size="6.1" dx="0.3" dy="2.0">SPT</tspan></text>
<text transform="translate(44.6,266.8) rotate(-90)" font-size="6.5" text-anchor="middle" fill="#111">Counts</text>
<rect x="56.40" y="210.90" width="49" height="49.4" fill="none" stroke="#c4c4c4" stroke-width="0.8"/>
<rect x="51.10" y="259.40" width="3.4" height="1.4" fill="#a6a6a6"/>
<rect x="54.60" y="259.80" width="1.3" height="0.6" fill="#888"/>
<rect x="51.10" y="245.10" width="3.4" height="1.4" fill="#a6a6a6"/>
<rect x="54.60" y="245.50" width="1.3" height="0.6" fill="#888"/>
<rect x="51.10" y="230.80" width="3.4" height="1.4" fill="#a6a6a6"/>
<rect x="54.60" y="231.20" width="1.3" height="0.6" fill="#888"/>
<rect x="51.10" y="216.50" width="3.4" height="1.4" fill="#a6a6a6"/>
<rect x="54.60" y="216.90" width="1.3" height="0.6" fill="#888"/>
<rect x="60.65" y="263.20" width="0.9" height="1.8" fill="#999"/>
<rect x="60.85" y="260.30" width="0.5" height="1.3" fill="#888"/>
<rect x="65.00" y="263.40" width="2.5" height="1.6" fill="#8c8c8c"/><rect x="67.50" y="262.70" width="1.0" height="1.2" fill="#a0a0a0"/>
<rect x="66.45" y="260.30" width="0.5" height="1.3" fill="#888"/>
<rect x="77.10" y="263.40" width="2.5" height="1.6" fill="#8c8c8c"/><rect x="79.60" y="262.70" width="1.0" height="1.2" fill="#a0a0a0"/>
<rect x="78.55" y="260.30" width="0.5" height="1.3" fill="#888"/>
<rect x="88.70" y="263.40" width="2.5" height="1.6" fill="#8c8c8c"/><rect x="91.20" y="262.70" width="1.0" height="1.2" fill="#a0a0a0"/>
<rect x="90.15" y="260.30" width="0.5" height="1.3" fill="#888"/>
<rect x="100.20" y="263.40" width="2.5" height="1.6" fill="#8c8c8c"/><rect x="102.70" y="262.70" width="1.0" height="1.2" fill="#a0a0a0"/>
<rect x="101.65" y="260.30" width="0.5" height="1.3" fill="#888"/>
<path d="M59.50,260.20 C59.88,259.87 61.15,259.07 61.80,258.20 C62.45,257.33 62.87,256.32 63.40,255.00 C63.93,253.68 64.48,252.13 65.00,250.30 C65.52,248.47 65.98,246.08 66.50,244.00 C67.02,241.92 67.65,239.30 68.10,237.80 C68.55,236.30 68.87,235.27 69.20,235.00 C69.53,234.73 69.77,235.73 70.10,236.20 C70.43,236.67 70.83,238.58 71.20,237.80 C71.57,237.02 71.90,234.12 72.30,231.50 C72.70,228.88 73.20,225.10 73.60,222.10 C74.00,219.10 74.37,214.28 74.70,213.50 C75.03,212.72 75.32,214.40 75.60,217.40 C75.88,220.40 76.13,226.53 76.40,231.50 C76.67,236.47 76.93,243.02 77.20,247.20 C77.47,251.38 77.68,254.43 78.00,256.60 C78.32,258.77 78.92,259.60 79.10,260.20Z" fill="#646464" stroke="#646464" stroke-width="0.3" stroke-linejoin="round"/>
<line x1="56.4" y1="260.2" x2="105.4" y2="260.2" stroke="#333" stroke-width="0.8"/>
<rect x="112.90" y="210.90" width="49" height="49.4" fill="none" stroke="#c4c4c4" stroke-width="0.8"/>
<rect x="107.60" y="259.40" width="3.4" height="1.4" fill="#a6a6a6"/>
<rect x="111.10" y="259.80" width="1.3" height="0.6" fill="#888"/>
<rect x="107.60" y="249.76" width="3.4" height="1.4" fill="#a6a6a6"/>
<rect x="111.10" y="250.16" width="1.3" height="0.6" fill="#888"/>
<rect x="107.60" y="240.12" width="3.4" height="1.4" fill="#a6a6a6"/>
<rect x="111.10" y="240.52" width="1.3" height="0.6" fill="#888"/>
<rect x="107.60" y="230.48" width="3.4" height="1.4" fill="#a6a6a6"/>
<rect x="111.10" y="230.88" width="1.3" height="0.6" fill="#888"/>
<rect x="107.60" y="220.84" width="3.4" height="1.4" fill="#a6a6a6"/>
<rect x="111.10" y="221.24" width="1.3" height="0.6" fill="#888"/>
<rect x="107.60" y="211.20" width="3.4" height="1.4" fill="#a6a6a6"/>
<rect x="111.10" y="211.60" width="1.3" height="0.6" fill="#888"/>
<rect x="117.15" y="263.20" width="0.9" height="1.8" fill="#999"/>
<rect x="117.35" y="260.30" width="0.5" height="1.3" fill="#888"/>
<rect x="121.50" y="263.40" width="2.5" height="1.6" fill="#8c8c8c"/><rect x="124.00" y="262.70" width="1.0" height="1.2" fill="#a0a0a0"/>
<rect x="122.95" y="260.30" width="0.5" height="1.3" fill="#888"/>
<rect x="133.60" y="263.40" width="2.5" height="1.6" fill="#8c8c8c"/><rect x="136.10" y="262.70" width="1.0" height="1.2" fill="#a0a0a0"/>
<rect x="135.05" y="260.30" width="0.5" height="1.3" fill="#888"/>
<rect x="145.20" y="263.40" width="2.5" height="1.6" fill="#8c8c8c"/><rect x="147.70" y="262.70" width="1.0" height="1.2" fill="#a0a0a0"/>
<rect x="146.65" y="260.30" width="0.5" height="1.3" fill="#888"/>
<rect x="156.70" y="263.40" width="2.5" height="1.6" fill="#8c8c8c"/><rect x="159.20" y="262.70" width="1.0" height="1.2" fill="#a0a0a0"/>
<rect x="158.15" y="260.30" width="0.5" height="1.3" fill="#888"/>
<path d="M116.40,260.20 C116.78,259.87 118.05,259.07 118.70,258.20 C119.35,257.33 119.77,256.32 120.30,255.00 C120.83,253.68 121.38,252.13 121.90,250.30 C122.42,248.47 122.88,246.08 123.40,244.00 C123.92,241.92 124.55,239.30 125.00,237.80 C125.45,236.30 125.77,235.27 126.10,235.00 C126.43,234.73 126.67,235.73 127.00,236.20 C127.33,236.67 127.73,238.58 128.10,237.80 C128.47,237.02 128.80,234.12 129.20,231.50 C129.60,228.88 130.10,225.10 130.50,222.10 C130.90,219.10 131.27,214.28 131.60,213.50 C131.93,212.72 132.22,214.40 132.50,217.40 C132.78,220.40 133.03,226.53 133.30,231.50 C133.57,236.47 133.83,243.02 134.10,247.20 C134.37,251.38 134.58,254.43 134.90,256.60 C135.22,258.77 135.82,259.60 136.00,260.20Z" fill="#646464" stroke="#646464" stroke-width="0.3" stroke-linejoin="round"/>
<line x1="112.9" y1="260.2" x2="161.9" y2="260.2" stroke="#333" stroke-width="0.8"/>
<path d="M112.40,260.20 C112.78,260.20 113.80,260.53 114.70,260.20 C115.60,259.87 116.88,259.07 117.80,258.20 C118.72,257.33 119.42,256.32 120.20,255.00 C120.98,253.68 121.72,251.87 122.50,250.30 C123.28,248.73 124.12,247.17 124.90,245.60 C125.68,244.03 126.55,242.47 127.20,240.90 C127.85,239.33 128.32,238.28 128.80,236.20 C129.28,234.12 129.70,231.27 130.10,228.40 C130.50,225.53 130.90,221.48 131.20,219.00 C131.50,216.52 131.62,213.77 131.90,213.50 C132.18,213.23 132.58,214.13 132.90,217.40 C133.22,220.67 133.48,227.62 133.80,233.10 C134.12,238.58 134.45,246.00 134.80,250.30 C135.15,254.60 135.47,257.25 135.90,258.90 C136.33,260.55 133.03,259.98 137.40,260.20 C141.77,260.42 157.98,260.20 162.10,260.20" fill="none" stroke="#111" stroke-width="1.05" stroke-linejoin="round"/>
<rect x="168.90" y="210.90" width="49" height="49.4" fill="none" stroke="#c4c4c4" stroke-width="0.8"/>
<rect x="163.60" y="259.40" width="3.4" height="1.4" fill="#a6a6a6"/>
<rect x="167.10" y="259.80" width="1.3" height="0.6" fill="#888"/>
<rect x="163.60" y="249.76" width="3.4" height="1.4" fill="#a6a6a6"/>
<rect x="167.10" y="250.16" width="1.3" height="0.6" fill="#888"/>
<rect x="163.60" y="240.12" width="3.4" height="1.4" fill="#a6a6a6"/>
<rect x="167.10" y="240.52" width="1.3" height="0.6" fill="#888"/>
<rect x="163.60" y="230.48" width="3.4" height="1.4" fill="#a6a6a6"/>
<rect x="167.10" y="230.88" width="1.3" height="0.6" fill="#888"/>
<rect x="163.60" y="220.84" width="3.4" height="1.4" fill="#a6a6a6"/>
<rect x="167.10" y="221.24" width="1.3" height="0.6" fill="#888"/>
<rect x="163.60" y="211.20" width="3.4" height="1.4" fill="#a6a6a6"/>
<rect x="167.10" y="211.60" width="1.3" height="0.6" fill="#888"/>
<rect x="173.15" y="263.20" width="0.9" height="1.8" fill="#999"/>
<rect x="173.35" y="260.30" width="0.5" height="1.3" fill="#888"/>
<rect x="177.50" y="263.40" width="2.5" height="1.6" fill="#8c8c8c"/><rect x="180.00" y="262.70" width="1.0" height="1.2" fill="#a0a0a0"/>
<rect x="178.95" y="260.30" width="0.5" height="1.3" fill="#888"/>
<rect x="189.60" y="263.40" width="2.5" height="1.6" fill="#8c8c8c"/><rect x="192.10" y="262.70" width="1.0" height="1.2" fill="#a0a0a0"/>
<rect x="191.05" y="260.30" width="0.5" height="1.3" fill="#888"/>
<rect x="201.20" y="263.40" width="2.5" height="1.6" fill="#8c8c8c"/><rect x="203.70" y="262.70" width="1.0" height="1.2" fill="#a0a0a0"/>
<rect x="202.65" y="260.30" width="0.5" height="1.3" fill="#888"/>
<rect x="212.70" y="263.40" width="2.5" height="1.6" fill="#8c8c8c"/><rect x="215.20" y="262.70" width="1.0" height="1.2" fill="#a0a0a0"/>
<rect x="214.15" y="260.30" width="0.5" height="1.3" fill="#888"/>
<path d="M173.20,260.20 C173.58,259.87 174.85,259.07 175.50,258.20 C176.15,257.33 176.57,256.32 177.10,255.00 C177.63,253.68 178.18,252.13 178.70,250.30 C179.22,248.47 179.68,246.08 180.20,244.00 C180.72,241.92 181.35,239.30 181.80,237.80 C182.25,236.30 182.57,235.27 182.90,235.00 C183.23,234.73 183.47,235.73 183.80,236.20 C184.13,236.67 184.53,238.58 184.90,237.80 C185.27,237.02 185.60,234.12 186.00,231.50 C186.40,228.88 186.90,225.10 187.30,222.10 C187.70,219.10 188.07,214.28 188.40,213.50 C188.73,212.72 189.02,214.40 189.30,217.40 C189.58,220.40 189.83,226.53 190.10,231.50 C190.37,236.47 190.63,243.02 190.90,247.20 C191.17,251.38 191.38,254.43 191.70,256.60 C192.02,258.77 192.62,259.60 192.80,260.20Z" fill="#646464" stroke="#646464" stroke-width="0.3" stroke-linejoin="round"/>
<line x1="168.9" y1="260.2" x2="217.9" y2="260.2" stroke="#333" stroke-width="0.8"/>
<path d="M168.40,260.20 C168.78,260.20 169.67,260.53 170.70,260.20 C171.73,259.87 173.42,259.32 174.60,258.20 C175.78,257.08 176.88,255.07 177.80,253.50 C178.72,251.93 179.32,249.98 180.10,248.80 C180.88,247.62 181.77,247.32 182.50,246.40 C183.23,245.48 183.90,245.00 184.50,243.30 C185.10,241.60 185.65,238.95 186.10,236.20 C186.55,233.45 186.83,229.93 187.20,226.80 C187.57,223.67 187.97,219.62 188.30,217.40 C188.63,215.18 188.87,213.50 189.20,213.50 C189.53,213.50 189.93,214.40 190.30,217.40 C190.67,220.40 191.07,226.27 191.40,231.50 C191.73,236.73 191.97,244.23 192.30,248.80 C192.63,253.37 192.95,257.00 193.40,258.90 C193.85,260.80 190.88,259.98 195.00,260.20 C199.12,260.42 214.25,260.20 218.10,260.20" fill="none" stroke="#111" stroke-width="1.05" stroke-linejoin="round"/>
<rect x="225.90" y="210.90" width="49" height="49.4" fill="none" stroke="#c4c4c4" stroke-width="0.8"/>
<rect x="220.60" y="259.40" width="3.4" height="1.4" fill="#a6a6a6"/>
<rect x="224.10" y="259.80" width="1.3" height="0.6" fill="#888"/>
<rect x="220.60" y="249.76" width="3.4" height="1.4" fill="#a6a6a6"/>
<rect x="224.10" y="250.16" width="1.3" height="0.6" fill="#888"/>
<rect x="220.60" y="240.12" width="3.4" height="1.4" fill="#a6a6a6"/>
<rect x="224.10" y="240.52" width="1.3" height="0.6" fill="#888"/>
<rect x="220.60" y="230.48" width="3.4" height="1.4" fill="#a6a6a6"/>
<rect x="224.10" y="230.88" width="1.3" height="0.6" fill="#888"/>
<rect x="220.60" y="220.84" width="3.4" height="1.4" fill="#a6a6a6"/>
<rect x="224.10" y="221.24" width="1.3" height="0.6" fill="#888"/>
<rect x="220.60" y="211.20" width="3.4" height="1.4" fill="#a6a6a6"/>
<rect x="224.10" y="211.60" width="1.3" height="0.6" fill="#888"/>
<rect x="230.15" y="263.20" width="0.9" height="1.8" fill="#999"/>
<rect x="230.35" y="260.30" width="0.5" height="1.3" fill="#888"/>
<rect x="234.50" y="263.40" width="2.5" height="1.6" fill="#8c8c8c"/><rect x="237.00" y="262.70" width="1.0" height="1.2" fill="#a0a0a0"/>
<rect x="235.95" y="260.30" width="0.5" height="1.3" fill="#888"/>
<rect x="246.60" y="263.40" width="2.5" height="1.6" fill="#8c8c8c"/><rect x="249.10" y="262.70" width="1.0" height="1.2" fill="#a0a0a0"/>
<rect x="248.05" y="260.30" width="0.5" height="1.3" fill="#888"/>
<rect x="258.20" y="263.40" width="2.5" height="1.6" fill="#8c8c8c"/><rect x="260.70" y="262.70" width="1.0" height="1.2" fill="#a0a0a0"/>
<rect x="259.65" y="260.30" width="0.5" height="1.3" fill="#888"/>
<rect x="269.70" y="263.40" width="2.5" height="1.6" fill="#8c8c8c"/><rect x="272.20" y="262.70" width="1.0" height="1.2" fill="#a0a0a0"/>
<rect x="271.15" y="260.30" width="0.5" height="1.3" fill="#888"/>
<path d="M229.60,260.20 C229.98,259.87 231.25,259.07 231.90,258.20 C232.55,257.33 232.97,256.32 233.50,255.00 C234.03,253.68 234.58,252.13 235.10,250.30 C235.62,248.47 236.08,246.08 236.60,244.00 C237.12,241.92 237.75,239.30 238.20,237.80 C238.65,236.30 238.97,235.27 239.30,235.00 C239.63,234.73 239.87,235.73 240.20,236.20 C240.53,236.67 240.93,238.58 241.30,237.80 C241.67,237.02 242.00,234.12 242.40,231.50 C242.80,228.88 243.30,225.10 243.70,222.10 C244.10,219.10 244.47,214.28 244.80,213.50 C245.13,212.72 245.42,214.40 245.70,217.40 C245.98,220.40 246.23,226.53 246.50,231.50 C246.77,236.47 247.03,243.02 247.30,247.20 C247.57,251.38 247.78,254.43 248.10,256.60 C248.42,258.77 249.02,259.60 249.20,260.20Z" fill="#646464" stroke="#646464" stroke-width="0.3" stroke-linejoin="round"/>
<line x1="225.9" y1="260.2" x2="274.9" y2="260.2" stroke="#333" stroke-width="0.8"/>
<path d="M225.40,260.20 C225.78,260.20 226.53,260.53 227.70,260.20 C228.87,259.87 231.10,259.07 232.40,258.20 C233.70,257.33 234.45,256.05 235.50,255.00 C236.55,253.95 237.78,253.20 238.70,251.90 C239.62,250.60 240.35,249.30 241.00,247.20 C241.65,245.10 242.13,242.70 242.60,239.30 C243.07,235.90 243.42,230.72 243.80,226.80 C244.18,222.88 244.63,218.02 244.90,215.80 C245.17,213.58 245.18,213.23 245.40,213.50 C245.62,213.77 245.93,217.40 246.20,217.40 C246.47,217.40 246.73,212.98 247.00,213.50 C247.27,214.02 247.55,216.72 247.80,220.50 C248.05,224.28 248.25,230.97 248.50,236.20 C248.75,241.43 248.98,248.12 249.30,251.90 C249.62,255.68 249.95,257.52 250.40,258.90 C250.85,260.28 247.88,259.98 252.00,260.20 C256.12,260.42 271.25,260.20 275.10,260.20" fill="none" stroke="#111" stroke-width="1.05" stroke-linejoin="round"/>
<rect x="282.90" y="210.90" width="49" height="49.4" fill="none" stroke="#c4c4c4" stroke-width="0.8"/>
<rect x="277.60" y="259.40" width="3.4" height="1.4" fill="#a6a6a6"/>
<rect x="281.10" y="259.80" width="1.3" height="0.6" fill="#888"/>
<rect x="277.60" y="249.76" width="3.4" height="1.4" fill="#a6a6a6"/>
<rect x="281.10" y="250.16" width="1.3" height="0.6" fill="#888"/>
<rect x="277.60" y="240.12" width="3.4" height="1.4" fill="#a6a6a6"/>
<rect x="281.10" y="240.52" width="1.3" height="0.6" fill="#888"/>
<rect x="277.60" y="230.48" width="3.4" height="1.4" fill="#a6a6a6"/>
<rect x="281.10" y="230.88" width="1.3" height="0.6" fill="#888"/>
<rect x="277.60" y="220.84" width="3.4" height="1.4" fill="#a6a6a6"/>
<rect x="281.10" y="221.24" width="1.3" height="0.6" fill="#888"/>
<rect x="277.60" y="211.20" width="3.4" height="1.4" fill="#a6a6a6"/>
<rect x="281.10" y="211.60" width="1.3" height="0.6" fill="#888"/>
<rect x="287.15" y="263.20" width="0.9" height="1.8" fill="#999"/>
<rect x="287.35" y="260.30" width="0.5" height="1.3" fill="#888"/>
<rect x="291.50" y="263.40" width="2.5" height="1.6" fill="#8c8c8c"/><rect x="294.00" y="262.70" width="1.0" height="1.2" fill="#a0a0a0"/>
<rect x="292.95" y="260.30" width="0.5" height="1.3" fill="#888"/>
<rect x="303.60" y="263.40" width="2.5" height="1.6" fill="#8c8c8c"/><rect x="306.10" y="262.70" width="1.0" height="1.2" fill="#a0a0a0"/>
<rect x="305.05" y="260.30" width="0.5" height="1.3" fill="#888"/>
<rect x="315.20" y="263.40" width="2.5" height="1.6" fill="#8c8c8c"/><rect x="317.70" y="262.70" width="1.0" height="1.2" fill="#a0a0a0"/>
<rect x="316.65" y="260.30" width="0.5" height="1.3" fill="#888"/>
<rect x="326.70" y="263.40" width="2.5" height="1.6" fill="#8c8c8c"/><rect x="329.20" y="262.70" width="1.0" height="1.2" fill="#a0a0a0"/>
<rect x="328.15" y="260.30" width="0.5" height="1.3" fill="#888"/>
<path d="M286.80,260.20 C287.18,259.87 288.45,259.07 289.10,258.20 C289.75,257.33 290.17,256.32 290.70,255.00 C291.23,253.68 291.78,252.13 292.30,250.30 C292.82,248.47 293.28,246.08 293.80,244.00 C294.32,241.92 294.95,239.30 295.40,237.80 C295.85,236.30 296.17,235.27 296.50,235.00 C296.83,234.73 297.07,235.73 297.40,236.20 C297.73,236.67 298.13,238.58 298.50,237.80 C298.87,237.02 299.20,234.12 299.60,231.50 C300.00,228.88 300.50,225.10 300.90,222.10 C301.30,219.10 301.67,214.28 302.00,213.50 C302.33,212.72 302.62,214.40 302.90,217.40 C303.18,220.40 303.43,226.53 303.70,231.50 C303.97,236.47 304.23,243.02 304.50,247.20 C304.77,251.38 304.98,254.43 305.30,256.60 C305.62,258.77 306.22,259.60 306.40,260.20Z" fill="#646464" stroke="#646464" stroke-width="0.3" stroke-linejoin="round"/>
<line x1="282.9" y1="260.2" x2="331.9" y2="260.2" stroke="#333" stroke-width="0.8"/>
<path d="M282.40,260.20 C282.78,260.20 283.53,260.53 284.70,260.20 C285.87,259.87 288.10,259.07 289.40,258.20 C290.70,257.33 291.45,256.05 292.50,255.00 C293.55,253.95 294.78,253.20 295.70,251.90 C296.62,250.60 297.35,249.30 298.00,247.20 C298.65,245.10 299.13,242.70 299.60,239.30 C300.07,235.90 300.42,230.72 300.80,226.80 C301.18,222.88 301.58,218.02 301.90,215.80 C302.22,213.58 302.38,213.23 302.70,213.50 C303.02,213.77 303.45,214.13 303.80,217.40 C304.15,220.67 304.52,227.62 304.80,233.10 C305.08,238.58 305.20,246.00 305.50,250.30 C305.80,254.60 306.15,257.25 306.60,258.90 C307.05,260.55 303.95,259.98 308.20,260.20 C312.45,260.42 328.12,260.20 332.10,260.20" fill="none" stroke="#111" stroke-width="1.05" stroke-linejoin="round"/>
<rect x="56.40" y="272.40" width="49" height="49.30000000000001" fill="none" stroke="#c4c4c4" stroke-width="0.8"/>
<rect x="51.10" y="320.80" width="3.4" height="1.4" fill="#a6a6a6"/>
<rect x="54.60" y="321.20" width="1.3" height="0.6" fill="#888"/>
<rect x="51.10" y="310.70" width="3.4" height="1.4" fill="#a6a6a6"/>
<rect x="54.60" y="311.10" width="1.3" height="0.6" fill="#888"/>
<rect x="51.10" y="300.60" width="3.4" height="1.4" fill="#a6a6a6"/>
<rect x="54.60" y="301.00" width="1.3" height="0.6" fill="#888"/>
<rect x="51.10" y="290.50" width="3.4" height="1.4" fill="#a6a6a6"/>
<rect x="54.60" y="290.90" width="1.3" height="0.6" fill="#888"/>
<rect x="51.10" y="280.40" width="3.4" height="1.4" fill="#a6a6a6"/>
<rect x="54.60" y="280.80" width="1.3" height="0.6" fill="#888"/>
<rect x="60.65" y="324.60" width="0.9" height="1.8" fill="#999"/>
<rect x="60.85" y="321.70" width="0.5" height="1.3" fill="#888"/>
<rect x="65.00" y="324.80" width="2.5" height="1.6" fill="#8c8c8c"/><rect x="67.50" y="324.10" width="1.0" height="1.2" fill="#a0a0a0"/>
<rect x="66.45" y="321.70" width="0.5" height="1.3" fill="#888"/>
<rect x="77.10" y="324.80" width="2.5" height="1.6" fill="#8c8c8c"/><rect x="79.60" y="324.10" width="1.0" height="1.2" fill="#a0a0a0"/>
<rect x="78.55" y="321.70" width="0.5" height="1.3" fill="#888"/>
<rect x="88.70" y="324.80" width="2.5" height="1.6" fill="#8c8c8c"/><rect x="91.20" y="324.10" width="1.0" height="1.2" fill="#a0a0a0"/>
<rect x="90.15" y="321.70" width="0.5" height="1.3" fill="#888"/>
<rect x="100.20" y="324.80" width="2.5" height="1.6" fill="#8c8c8c"/><rect x="102.70" y="324.10" width="1.0" height="1.2" fill="#a0a0a0"/>
<rect x="101.65" y="321.70" width="0.5" height="1.3" fill="#888"/>
<path d="M59.50,321.70 C59.88,321.32 61.15,320.43 61.80,319.40 C62.45,318.37 62.87,317.47 63.40,315.50 C63.93,313.53 64.48,310.75 65.00,307.60 C65.52,304.45 65.98,300.25 66.50,296.60 C67.02,292.95 67.62,288.83 68.10,285.70 C68.58,282.57 69.00,279.50 69.40,277.80 C69.80,276.10 70.13,274.97 70.50,275.50 C70.87,276.03 71.22,278.78 71.60,281.00 C71.98,283.22 72.38,286.20 72.80,288.80 C73.22,291.40 73.70,294.90 74.10,296.60 C74.50,298.30 74.90,297.95 75.20,299.00 C75.50,300.05 75.57,300.93 75.90,302.90 C76.23,304.87 76.80,308.18 77.20,310.80 C77.60,313.42 77.93,316.78 78.30,318.60 C78.67,320.42 79.22,321.18 79.40,321.70Z" fill="#646464" stroke="#646464" stroke-width="0.3" stroke-linejoin="round"/>
<line x1="56.4" y1="321.7" x2="105.4" y2="321.7" stroke="#333" stroke-width="0.8"/>
<rect x="112.90" y="272.40" width="49" height="49.30000000000001" fill="none" stroke="#c4c4c4" stroke-width="0.8"/>
<rect x="107.60" y="320.80" width="3.4" height="1.4" fill="#a6a6a6"/>
<rect x="111.10" y="321.20" width="1.3" height="0.6" fill="#888"/>
<rect x="107.60" y="311.18" width="3.4" height="1.4" fill="#a6a6a6"/>
<rect x="111.10" y="311.58" width="1.3" height="0.6" fill="#888"/>
<rect x="107.60" y="301.56" width="3.4" height="1.4" fill="#a6a6a6"/>
<rect x="111.10" y="301.96" width="1.3" height="0.6" fill="#888"/>
<rect x="107.60" y="291.94" width="3.4" height="1.4" fill="#a6a6a6"/>
<rect x="111.10" y="292.34" width="1.3" height="0.6" fill="#888"/>
<rect x="107.60" y="282.32" width="3.4" height="1.4" fill="#a6a6a6"/>
<rect x="111.10" y="282.72" width="1.3" height="0.6" fill="#888"/>
<rect x="107.60" y="272.70" width="3.4" height="1.4" fill="#a6a6a6"/>
<rect x="111.10" y="273.10" width="1.3" height="0.6" fill="#888"/>
<rect x="117.15" y="324.60" width="0.9" height="1.8" fill="#999"/>
<rect x="117.35" y="321.70" width="0.5" height="1.3" fill="#888"/>
<rect x="121.50" y="324.80" width="2.5" height="1.6" fill="#8c8c8c"/><rect x="124.00" y="324.10" width="1.0" height="1.2" fill="#a0a0a0"/>
<rect x="122.95" y="321.70" width="0.5" height="1.3" fill="#888"/>
<rect x="133.60" y="324.80" width="2.5" height="1.6" fill="#8c8c8c"/><rect x="136.10" y="324.10" width="1.0" height="1.2" fill="#a0a0a0"/>
<rect x="135.05" y="321.70" width="0.5" height="1.3" fill="#888"/>
<rect x="145.20" y="324.80" width="2.5" height="1.6" fill="#8c8c8c"/><rect x="147.70" y="324.10" width="1.0" height="1.2" fill="#a0a0a0"/>
<rect x="146.65" y="321.70" width="0.5" height="1.3" fill="#888"/>
<rect x="156.70" y="324.80" width="2.5" height="1.6" fill="#8c8c8c"/><rect x="159.20" y="324.10" width="1.0" height="1.2" fill="#a0a0a0"/>
<rect x="158.15" y="321.70" width="0.5" height="1.3" fill="#888"/>
<path d="M115.50,321.70 C116.02,320.92 117.68,319.62 118.60,317.00 C119.52,314.38 120.22,310.43 121.00,306.00 C121.78,301.57 122.65,294.83 123.30,290.40 C123.95,285.97 124.43,281.88 124.90,279.40 C125.37,276.92 125.72,275.23 126.10,275.50 C126.48,275.77 126.80,279.30 127.20,281.00 C127.60,282.70 128.10,283.88 128.50,285.70 C128.90,287.52 129.23,289.82 129.60,291.90 C129.97,293.98 130.32,295.58 130.70,298.20 C131.08,300.82 131.48,304.47 131.90,307.60 C132.32,310.73 132.80,314.65 133.20,317.00 C133.60,319.35 134.12,320.92 134.30,321.70Z" fill="#646464" stroke="#646464" stroke-width="0.3" stroke-linejoin="round"/>
<line x1="112.9" y1="321.7" x2="161.9" y2="321.7" stroke="#333" stroke-width="0.8"/>
<path d="M112.40,321.70 C112.78,321.70 113.80,322.35 114.70,321.70 C115.60,321.05 116.88,319.88 117.80,317.80 C118.72,315.72 119.42,313.25 120.20,309.20 C120.98,305.15 121.80,298.20 122.50,293.50 C123.20,288.80 123.87,283.87 124.40,281.00 C124.93,278.13 125.35,277.22 125.70,276.30 C126.05,275.38 126.18,274.98 126.50,275.50 C126.82,276.02 127.27,278.23 127.60,279.40 C127.93,280.57 128.17,280.67 128.50,282.50 C128.83,284.33 129.23,288.17 129.60,290.40 C129.97,292.63 130.32,294.87 130.70,295.90 C131.08,296.93 131.57,297.27 131.90,296.60 C132.23,295.93 132.38,292.93 132.70,291.90 C133.02,290.87 133.45,290.13 133.80,290.40 C134.15,290.67 134.52,291.68 134.80,293.50 C135.08,295.32 135.25,298.42 135.50,301.30 C135.75,304.18 135.98,307.78 136.30,310.80 C136.62,313.82 136.95,317.58 137.40,319.40 C137.85,321.22 134.88,321.32 139.00,321.70 C143.12,322.08 158.25,321.70 162.10,321.70" fill="none" stroke="#0a0a0a" stroke-width="1.25" stroke-linejoin="round"/>
<rect x="168.90" y="272.40" width="49" height="49.30000000000001" fill="none" stroke="#c4c4c4" stroke-width="0.8"/>
<rect x="163.60" y="320.80" width="3.4" height="1.4" fill="#a6a6a6"/>
<rect x="167.10" y="321.20" width="1.3" height="0.6" fill="#888"/>
<rect x="163.60" y="311.18" width="3.4" height="1.4" fill="#a6a6a6"/>
<rect x="167.10" y="311.58" width="1.3" height="0.6" fill="#888"/>
<rect x="163.60" y="301.56" width="3.4" height="1.4" fill="#a6a6a6"/>
<rect x="167.10" y="301.96" width="1.3" height="0.6" fill="#888"/>
<rect x="163.60" y="291.94" width="3.4" height="1.4" fill="#a6a6a6"/>
<rect x="167.10" y="292.34" width="1.3" height="0.6" fill="#888"/>
<rect x="163.60" y="282.32" width="3.4" height="1.4" fill="#a6a6a6"/>
<rect x="167.10" y="282.72" width="1.3" height="0.6" fill="#888"/>
<rect x="163.60" y="272.70" width="3.4" height="1.4" fill="#a6a6a6"/>
<rect x="167.10" y="273.10" width="1.3" height="0.6" fill="#888"/>
<rect x="173.15" y="324.60" width="0.9" height="1.8" fill="#999"/>
<rect x="173.35" y="321.70" width="0.5" height="1.3" fill="#888"/>
<rect x="177.50" y="324.80" width="2.5" height="1.6" fill="#8c8c8c"/><rect x="180.00" y="324.10" width="1.0" height="1.2" fill="#a0a0a0"/>
<rect x="178.95" y="321.70" width="0.5" height="1.3" fill="#888"/>
<rect x="189.60" y="324.80" width="2.5" height="1.6" fill="#8c8c8c"/><rect x="192.10" y="324.10" width="1.0" height="1.2" fill="#a0a0a0"/>
<rect x="191.05" y="321.70" width="0.5" height="1.3" fill="#888"/>
<rect x="201.20" y="324.80" width="2.5" height="1.6" fill="#8c8c8c"/><rect x="203.70" y="324.10" width="1.0" height="1.2" fill="#a0a0a0"/>
<rect x="202.65" y="321.70" width="0.5" height="1.3" fill="#888"/>
<rect x="212.70" y="324.80" width="2.5" height="1.6" fill="#8c8c8c"/><rect x="215.20" y="324.10" width="1.0" height="1.2" fill="#a0a0a0"/>
<rect x="214.15" y="321.70" width="0.5" height="1.3" fill="#888"/>
<path d="M171.50,321.70 C172.02,320.67 173.55,318.90 174.60,315.50 C175.65,312.10 176.88,306.02 177.80,301.30 C178.72,296.58 179.45,290.85 180.10,287.20 C180.75,283.55 181.25,281.35 181.70,279.40 C182.15,277.45 182.42,274.98 182.80,275.50 C183.18,276.02 183.53,279.77 184.00,282.50 C184.47,285.23 185.07,289.28 185.60,291.90 C186.13,294.52 186.68,295.58 187.20,298.20 C187.72,300.82 188.27,304.47 188.70,307.60 C189.13,310.73 189.40,314.65 189.80,317.00 C190.20,319.35 190.88,320.92 191.10,321.70Z" fill="#646464" stroke="#646464" stroke-width="0.3" stroke-linejoin="round"/>
<line x1="168.9" y1="321.7" x2="217.9" y2="321.7" stroke="#333" stroke-width="0.8"/>
<path d="M168.40,321.70 C168.65,321.70 169.12,322.22 169.90,321.70 C170.68,321.18 172.18,320.17 173.10,318.60 C174.02,317.03 174.62,315.18 175.40,312.30 C176.18,309.42 177.02,305.22 177.80,301.30 C178.58,297.38 179.45,292.18 180.10,288.80 C180.75,285.42 181.25,283.22 181.70,281.00 C182.15,278.78 182.47,275.90 182.80,275.50 C183.13,275.10 183.37,276.90 183.70,278.60 C184.03,280.30 184.40,283.48 184.80,285.70 C185.20,287.92 185.63,290.08 186.10,291.90 C186.57,293.72 187.17,296.33 187.60,296.60 C188.03,296.87 188.33,294.80 188.70,293.50 C189.07,292.20 189.40,290.63 189.80,288.80 C190.20,286.97 190.68,284.07 191.10,282.50 C191.52,280.93 191.92,279.13 192.30,279.40 C192.68,279.67 193.08,281.48 193.40,284.10 C193.72,286.72 193.93,290.92 194.20,295.10 C194.47,299.28 194.73,305.28 195.00,309.20 C195.27,313.12 195.47,316.52 195.80,318.60 C196.13,320.68 193.28,321.18 197.00,321.70 C200.72,322.22 214.58,321.70 218.10,321.70" fill="none" stroke="#0a0a0a" stroke-width="1.25" stroke-linejoin="round"/>
<rect x="225.90" y="272.40" width="49" height="49.30000000000001" fill="none" stroke="#c4c4c4" stroke-width="0.8"/>
<rect x="220.60" y="320.80" width="3.4" height="1.4" fill="#a6a6a6"/>
<rect x="224.10" y="321.20" width="1.3" height="0.6" fill="#888"/>
<rect x="220.60" y="311.18" width="3.4" height="1.4" fill="#a6a6a6"/>
<rect x="224.10" y="311.58" width="1.3" height="0.6" fill="#888"/>
<rect x="220.60" y="301.56" width="3.4" height="1.4" fill="#a6a6a6"/>
<rect x="224.10" y="301.96" width="1.3" height="0.6" fill="#888"/>
<rect x="220.60" y="291.94" width="3.4" height="1.4" fill="#a6a6a6"/>
<rect x="224.10" y="292.34" width="1.3" height="0.6" fill="#888"/>
<rect x="220.60" y="282.32" width="3.4" height="1.4" fill="#a6a6a6"/>
<rect x="224.10" y="282.72" width="1.3" height="0.6" fill="#888"/>
<rect x="220.60" y="272.70" width="3.4" height="1.4" fill="#a6a6a6"/>
<rect x="224.10" y="273.10" width="1.3" height="0.6" fill="#888"/>
<rect x="230.15" y="324.60" width="0.9" height="1.8" fill="#999"/>
<rect x="230.35" y="321.70" width="0.5" height="1.3" fill="#888"/>
<rect x="234.50" y="324.80" width="2.5" height="1.6" fill="#8c8c8c"/><rect x="237.00" y="324.10" width="1.0" height="1.2" fill="#a0a0a0"/>
<rect x="235.95" y="321.70" width="0.5" height="1.3" fill="#888"/>
<rect x="246.60" y="324.80" width="2.5" height="1.6" fill="#8c8c8c"/><rect x="249.10" y="324.10" width="1.0" height="1.2" fill="#a0a0a0"/>
<rect x="248.05" y="321.70" width="0.5" height="1.3" fill="#888"/>
<rect x="258.20" y="324.80" width="2.5" height="1.6" fill="#8c8c8c"/><rect x="260.70" y="324.10" width="1.0" height="1.2" fill="#a0a0a0"/>
<rect x="259.65" y="321.70" width="0.5" height="1.3" fill="#888"/>
<rect x="269.70" y="324.80" width="2.5" height="1.6" fill="#8c8c8c"/><rect x="272.20" y="324.10" width="1.0" height="1.2" fill="#a0a0a0"/>
<rect x="271.15" y="321.70" width="0.5" height="1.3" fill="#888"/>
<path d="M227.70,321.70 C228.22,320.92 229.75,320.13 230.80,317.00 C231.85,313.87 233.08,307.60 234.00,302.90 C234.92,298.20 235.60,292.85 236.30,288.80 C237.00,284.75 237.67,280.55 238.20,278.60 C238.73,276.65 239.10,276.45 239.50,277.10 C239.90,277.75 240.22,280.55 240.60,282.50 C240.98,284.45 241.38,286.70 241.80,288.80 C242.22,290.90 242.70,293.67 243.10,295.10 C243.50,296.53 243.83,296.10 244.20,297.40 C244.57,298.70 244.92,300.42 245.30,302.90 C245.68,305.38 246.12,309.42 246.50,312.30 C246.88,315.18 247.28,318.63 247.60,320.20 C247.92,321.77 248.27,321.45 248.40,321.70Z" fill="#646464" stroke="#646464" stroke-width="0.3" stroke-linejoin="round"/>
<line x1="225.9" y1="321.7" x2="274.9" y2="321.7" stroke="#333" stroke-width="0.8"/>
<path d="M225.40,321.70 C225.57,321.70 225.62,322.22 226.40,321.70 C227.18,321.18 228.97,320.68 230.10,318.60 C231.23,316.52 232.30,313.38 233.20,309.20 C234.10,305.02 234.80,297.95 235.50,293.50 C236.20,289.05 236.87,285.12 237.40,282.50 C237.93,279.88 238.30,278.70 238.70,277.80 C239.10,276.90 239.47,276.57 239.80,277.10 C240.13,277.63 240.37,279.32 240.70,281.00 C241.03,282.68 241.40,285.38 241.80,287.20 C242.20,289.02 242.70,290.85 243.10,291.90 C243.50,292.95 243.90,294.28 244.20,293.50 C244.50,292.72 244.65,289.03 244.90,287.20 C245.15,285.37 245.38,283.53 245.70,282.50 C246.02,281.47 246.45,281.90 246.80,281.00 C247.15,280.10 247.45,278.02 247.80,277.10 C248.15,276.18 248.53,275.50 248.90,275.50 C249.27,275.50 249.70,275.40 250.00,277.10 C250.30,278.80 250.45,281.67 250.70,285.70 C250.95,289.73 251.23,296.60 251.50,301.30 C251.77,306.00 252.00,310.75 252.30,313.90 C252.60,317.05 252.97,318.90 253.30,320.20 C253.63,321.50 250.67,321.45 254.30,321.70 C257.93,321.95 271.63,321.70 275.10,321.70" fill="none" stroke="#0a0a0a" stroke-width="1.25" stroke-linejoin="round"/>
<rect x="283.90" y="270.40" width="50.2" height="49.80000000000001" fill="none" stroke="#c4c4c4" stroke-width="0.8"/>
<rect x="278.60" y="319.30" width="3.4" height="1.4" fill="#a6a6a6"/>
<rect x="282.10" y="319.70" width="1.3" height="0.6" fill="#888"/>
<rect x="278.60" y="309.58" width="3.4" height="1.4" fill="#a6a6a6"/>
<rect x="282.10" y="309.98" width="1.3" height="0.6" fill="#888"/>
<rect x="278.60" y="299.86" width="3.4" height="1.4" fill="#a6a6a6"/>
<rect x="282.10" y="300.26" width="1.3" height="0.6" fill="#888"/>
<rect x="278.60" y="290.14" width="3.4" height="1.4" fill="#a6a6a6"/>
<rect x="282.10" y="290.54" width="1.3" height="0.6" fill="#888"/>
<rect x="278.60" y="280.42" width="3.4" height="1.4" fill="#a6a6a6"/>
<rect x="282.10" y="280.82" width="1.3" height="0.6" fill="#888"/>
<rect x="278.60" y="270.70" width="3.4" height="1.4" fill="#a6a6a6"/>
<rect x="282.10" y="271.10" width="1.3" height="0.6" fill="#888"/>
<rect x="288.27" y="323.10" width="0.9" height="1.8" fill="#999"/>
<rect x="288.47" y="320.20" width="0.5" height="1.3" fill="#888"/>
<rect x="292.76" y="323.30" width="2.5" height="1.6" fill="#8c8c8c"/><rect x="295.26" y="322.60" width="1.0" height="1.2" fill="#a0a0a0"/>
<rect x="294.21" y="320.20" width="0.5" height="1.3" fill="#888"/>
<rect x="305.15" y="323.30" width="2.5" height="1.6" fill="#8c8c8c"/><rect x="307.65" y="322.60" width="1.0" height="1.2" fill="#a0a0a0"/>
<rect x="306.60" y="320.20" width="0.5" height="1.3" fill="#888"/>
<rect x="317.03" y="323.30" width="2.5" height="1.6" fill="#8c8c8c"/><rect x="319.53" y="322.60" width="1.0" height="1.2" fill="#a0a0a0"/>
<rect x="318.48" y="320.20" width="0.5" height="1.3" fill="#888"/>
<rect x="328.80" y="323.30" width="2.5" height="1.6" fill="#8c8c8c"/><rect x="331.30" y="322.60" width="1.0" height="1.2" fill="#a0a0a0"/>
<rect x="330.25" y="320.20" width="0.5" height="1.3" fill="#888"/>
<path d="M286.30,320.20 C286.82,319.33 288.48,317.70 289.40,315.00 C290.32,312.30 291.02,308.18 291.80,304.00 C292.58,299.82 293.38,294.07 294.10,289.90 C294.82,285.73 295.52,281.73 296.10,279.00 C296.68,276.27 297.15,273.25 297.60,273.50 C298.05,273.75 298.38,278.02 298.80,280.50 C299.22,282.98 299.70,286.17 300.10,288.40 C300.50,290.63 300.83,292.08 301.20,293.90 C301.57,295.72 301.92,296.82 302.30,299.30 C302.68,301.78 303.12,305.78 303.50,308.80 C303.88,311.82 304.27,315.50 304.60,317.40 C304.93,319.30 305.35,319.73 305.50,320.20Z" fill="#646464" stroke="#646464" stroke-width="0.3" stroke-linejoin="round"/>
<line x1="283.9" y1="320.2" x2="334.09999999999997" y2="320.2" stroke="#333" stroke-width="0.8"/>
<path d="M283.40,320.20 C283.62,320.20 283.83,320.80 284.70,320.20 C285.57,319.60 287.55,318.50 288.60,316.60 C289.65,314.70 290.22,312.47 291.00,308.80 C291.78,305.13 292.52,299.05 293.30,294.60 C294.08,290.15 295.05,285.48 295.70,282.10 C296.35,278.72 296.82,275.73 297.20,274.30 C297.58,272.87 297.68,272.47 298.00,273.50 C298.32,274.53 298.70,278.02 299.10,280.50 C299.50,282.98 299.98,286.43 300.40,288.40 C300.82,290.37 301.22,292.05 301.60,292.30 C301.98,292.55 302.33,290.55 302.70,289.90 C303.07,289.25 303.35,289.18 303.80,288.40 C304.25,287.62 304.93,286.52 305.40,285.20 C305.87,283.88 306.23,281.67 306.60,280.50 C306.97,279.33 307.28,277.67 307.60,278.20 C307.92,278.73 308.22,280.70 308.50,283.70 C308.78,286.70 309.03,292.02 309.30,296.20 C309.57,300.38 309.82,305.27 310.10,308.80 C310.38,312.33 310.62,315.50 311.00,317.40 C311.38,319.30 308.52,319.73 312.40,320.20 C316.28,320.67 330.65,320.20 334.30,320.20" fill="none" stroke="#0a0a0a" stroke-width="1.25" stroke-linejoin="round"/>
<line x1="54" y1="334.4" x2="167.3" y2="334.4" stroke="#777" stroke-width="1.2"/>
<line x1="216" y1="334.4" x2="331.5" y2="334.4" stroke="#777" stroke-width="1.2"/>
<text transform="translate(179.8,337.1) scale(1,1.0)" font-size="9.6" text-anchor="start" font-weight="normal" fill="#0a0a0a" >Bcl-2</text>
<text transform="translate(351.4,9.0) scale(1,1.0)" font-size="10.8" text-anchor="start" font-weight="bold" fill="#000" >B</text>
<text transform="translate(393.4,20.4) scale(1,1.0)" font-size="9.5" fill="#0a0a0a">CD4<tspan font-size="6.1" dx="0.3" dy="1.8">PERI</tspan></text>
<text transform="translate(465.6,20.4) scale(1,1.0)" font-size="9.5" fill="#0a0a0a">CD4<tspan font-size="6.1" dx="0.3" dy="1.8">SPT</tspan></text>
<path d="M374.9,32.8 Q374.9,29.2 377.2,29.2 L437.9,29.2 Q440.1,29.2 440.1,32.8 M407.7,29.2 L407.7,25.8" fill="none" stroke="#444" stroke-width="0.9"/>
<path d="M450.3,32.8 Q450.3,29.2 452.6,29.2 L514.5,29.2 Q516.8,29.2 516.8,32.8 M484.3,29.2 L484.3,24.2" fill="none" stroke="#444" stroke-width="0.9"/>
<line x1="372.6" y1="24.0" x2="372.6" y2="107.4" stroke="#111" stroke-width="1.1"/>
<line x1="369.2" y1="24.6" x2="372.6" y2="24.6" stroke="#111" stroke-width="1"/>
<text transform="translate(369.5,27.5) scale(1,1.0)" font-size="8.2" text-anchor="end" font-weight="bold" fill="#0a0a0a" >25</text>
<line x1="369.2" y1="41.1" x2="372.6" y2="41.1" stroke="#111" stroke-width="1"/>
<text transform="translate(369.5,44.0) scale(1,1.0)" font-size="8.2" text-anchor="end" font-weight="bold" fill="#0a0a0a" >20</text>
<line x1="369.2" y1="57.6" x2="372.6" y2="57.6" stroke="#111" stroke-width="1"/>
<text transform="translate(369.5,60.5) scale(1,1.0)" font-size="8.2" text-anchor="end" font-weight="bold" fill="#0a0a0a" >15</text>
<line x1="369.2" y1="74.1" x2="372.6" y2="74.1" stroke="#111" stroke-width="1"/>
<text transform="translate(369.5,77.0) scale(1,1.0)" font-size="8.2" text-anchor="end" font-weight="bold" fill="#0a0a0a" >10</text>
<line x1="369.2" y1="90.6" x2="372.6" y2="90.6" stroke="#111" stroke-width="1"/>
<text transform="translate(369.5,93.5) scale(1,1.0)" font-size="8.2" text-anchor="end" font-weight="bold" fill="#0a0a0a" >5</text>
<line x1="369.2" y1="107.0" x2="372.6" y2="107.0" stroke="#111" stroke-width="1"/>
<text transform="translate(369.5,109.9) scale(1,1.0)" font-size="8.2" text-anchor="end" font-weight="bold" fill="#0a0a0a" >0</text>
<text transform="translate(357.3,63.6) rotate(-90)" font-size="7.05" text-anchor="middle" fill="#1a1a1a">BCL-2 Relative Expression</text>
<line x1="372.6" y1="106.9" x2="443.6" y2="106.9" stroke="#111" stroke-width="1.1"/>
<line x1="447.4" y1="106.9" x2="518.2" y2="106.9" stroke="#111" stroke-width="1.1"/>
<rect x="375.3" y="103.7" width="11.7" height="3.3" fill="#000"/>
<rect x="389.2" y="105.8" width="11.7" height="1.2" fill="#000"/>
<rect x="403.0" y="105.7" width="11.7" height="1.3" fill="#000"/>
<rect x="416.8" y="89.5" width="11.7" height="17.5" fill="#000"/>
<rect x="430.5" y="55.3" width="11.7" height="51.7" fill="#000"/>
<rect x="450.35" y="102.9" width="10.9" height="4.1" fill="#fff" stroke="#000" stroke-width="1.1"/>
<rect x="463.95" y="101.8" width="10.9" height="5.2" fill="#fff" stroke="#000" stroke-width="1.1"/>
<rect x="477.75" y="89.8" width="10.9" height="17.2" fill="#fff" stroke="#000" stroke-width="1.1"/>
<rect x="491.55" y="40.6" width="10.9" height="66.4" fill="#fff" stroke="#000" stroke-width="1.1"/>
<rect x="505.15000000000003" y="41.5" width="10.9" height="65.5" fill="#fff" stroke="#000" stroke-width="1.1"/>
<text transform="translate(382.9,119.7) rotate(-45)" font-size="7.5" text-anchor="middle" fill="#0a0a0a">0</text>
<text transform="translate(396.8,119.7) rotate(-45)" font-size="7.5" text-anchor="middle" fill="#0a0a0a">0.05</text>
<text transform="translate(410.6,119.7) rotate(-45)" font-size="7.5" text-anchor="middle" fill="#0a0a0a">0.5</text>
<text transform="translate(424.4,119.7) rotate(-45)" font-size="7.5" text-anchor="middle" fill="#0a0a0a">1</text>
<text transform="translate(438.1,119.7) rotate(-45)" font-size="7.5" text-anchor="middle" fill="#0a0a0a">5</text>
<text transform="translate(457.4,119.7) rotate(-45)" font-size="7.5" text-anchor="middle" fill="#0a0a0a">0</text>
<text transform="translate(470.9,119.7) rotate(-45)" font-size="7.5" text-anchor="middle" fill="#0a0a0a">0.05</text>
<text transform="translate(484.8,119.7) rotate(-45)" font-size="7.5" text-anchor="middle" fill="#0a0a0a">0.5</text>
<text transform="translate(498.6,119.7) rotate(-45)" font-size="7.5" text-anchor="middle" fill="#0a0a0a">1</text>
<text transform="translate(512.2,119.7) rotate(-45)" font-size="7.5" text-anchor="middle" fill="#0a0a0a">5</text>
<text transform="translate(417.8,138.9) scale(1,1.0)" font-size="9.6" text-anchor="start" font-weight="normal" fill="#0a0a0a" >IL7 (ng/ml)</text>
<text transform="translate(359.6,198.4) scale(1,1.0)" font-size="10.8" text-anchor="start" font-weight="bold" fill="#000" >D</text>
<rect x="394.0" y="193.5" width="59" height="57.8" fill="none" stroke="#c4c4c4" stroke-width="0.8"/>
<rect x="388.9" y="250.40" width="2.8" height="1.4" fill="#a0a0a0"/>
<rect x="392.2" y="250.80" width="1.3" height="0.6" fill="#888"/>
<rect x="388.9" y="239.34" width="2.8" height="1.4" fill="#a0a0a0"/>
<rect x="392.2" y="239.74" width="1.3" height="0.6" fill="#888"/>
<rect x="388.9" y="228.28" width="2.8" height="1.4" fill="#a0a0a0"/>
<rect x="392.2" y="228.68" width="1.3" height="0.6" fill="#888"/>
<rect x="388.9" y="217.22" width="2.8" height="1.4" fill="#a0a0a0"/>
<rect x="392.2" y="217.62" width="1.3" height="0.6" fill="#888"/>
<rect x="388.9" y="206.16" width="2.8" height="1.4" fill="#a0a0a0"/>
<rect x="392.2" y="206.56" width="1.3" height="0.6" fill="#888"/>
<rect x="388.9" y="195.10" width="2.8" height="1.4" fill="#a0a0a0"/>
<rect x="392.2" y="195.50" width="1.3" height="0.6" fill="#888"/>
<rect x="399.29" y="254.20" width="0.9" height="1.8" fill="#999"/>
<rect x="399.49" y="251.30" width="0.5" height="1.3" fill="#888"/>
<rect x="404.76" y="254.40" width="2.5" height="1.6" fill="#8c8c8c"/><rect x="407.26" y="253.70" width="1.0" height="1.2" fill="#a0a0a0"/>
<rect x="406.21" y="251.30" width="0.5" height="1.3" fill="#888"/>
<rect x="419.28" y="254.40" width="2.5" height="1.6" fill="#8c8c8c"/><rect x="421.78" y="253.70" width="1.0" height="1.2" fill="#a0a0a0"/>
<rect x="420.73" y="251.30" width="0.5" height="1.3" fill="#888"/>
<rect x="433.20" y="254.40" width="2.5" height="1.6" fill="#8c8c8c"/><rect x="435.70" y="253.70" width="1.0" height="1.2" fill="#a0a0a0"/>
<rect x="434.65" y="251.30" width="0.5" height="1.3" fill="#888"/>
<rect x="447.00" y="254.40" width="2.5" height="1.6" fill="#8c8c8c"/><rect x="449.50" y="253.70" width="1.0" height="1.2" fill="#a0a0a0"/>
<rect x="448.45" y="251.30" width="0.5" height="1.3" fill="#888"/>
<polygon points="393.80,251.00 393.80,240.00 396.00,236.50 397.80,226.00 398.60,206.00 400.00,197.30 401.30,205.00 402.00,215.00 402.70,226.40 404.50,237.30 407.30,246.40 409.00,250.60" fill="#bcbcbc"/>
<path d="M393.80,248.20 C394.33,248.10 395.82,247.90 397.00,247.60 C398.18,247.30 399.87,247.03 400.90,246.40 C401.93,245.77 402.43,244.72 403.20,243.80 C403.97,242.88 404.67,242.28 405.50,240.90 C406.33,239.52 407.30,237.92 408.20,235.50 C409.10,233.08 410.15,229.43 410.90,226.40 C411.65,223.37 412.10,220.33 412.70,217.30 C413.30,214.27 413.88,210.93 414.50,208.20 C415.12,205.47 415.93,202.67 416.40,200.90 C416.87,199.13 417.00,197.67 417.30,197.60 C417.60,197.53 417.95,199.18 418.20,200.50 C418.45,201.82 418.50,202.70 418.80,205.50 C419.10,208.30 419.58,212.30 420.00,217.30 C420.42,222.30 420.90,230.65 421.30,235.50 C421.70,240.35 422.02,243.82 422.40,246.40 C422.78,248.98 418.58,250.22 423.60,251.00 C428.62,251.78 447.68,251.08 452.50,251.10" fill="none" stroke="#3a3a3a" stroke-width="0.75" stroke-linejoin="round"/>
<path d="M393.80,244.50 C394.38,244.20 396.12,243.60 397.30,242.70 C398.48,241.80 399.85,240.30 400.90,239.10 C401.95,237.90 402.83,237.17 403.60,235.50 C404.37,233.83 404.88,230.93 405.50,229.10 C406.12,227.27 406.70,225.57 407.30,224.50 C407.90,223.43 408.58,223.90 409.10,222.70 C409.62,221.50 409.95,219.42 410.40,217.30 C410.85,215.18 411.32,212.43 411.80,210.00 C412.28,207.57 412.85,204.82 413.30,202.70 C413.75,200.58 414.13,197.60 414.50,197.30 C414.87,197.00 415.10,200.90 415.50,200.90 C415.90,200.90 416.55,196.70 416.90,197.30 C417.25,197.90 417.30,203.13 417.60,204.50 C417.90,205.87 418.30,203.37 418.70,205.50 C419.10,207.63 419.57,212.30 420.00,217.30 C420.43,222.30 420.90,230.65 421.30,235.50 C421.70,240.35 422.02,243.83 422.40,246.40 C422.78,248.97 418.58,250.13 423.60,250.90 C428.62,251.67 447.68,250.98 452.50,251.00" fill="none" stroke="#000" stroke-width="1.25" stroke-linejoin="round"/>
<line x1="394.2" y1="214.4" x2="394.2" y2="251" stroke="#111" stroke-width="1.2"/>
<text transform="translate(385.6,225.8) rotate(-90)" font-size="6.5" text-anchor="middle" fill="#111">Counts</text>
<text transform="translate(407.2,265.5) scale(0.93,1)" font-size="9.9" fill="#0a0a0a">IL7Ra</text>
<rect x="393.8" y="282.4" width="58.8" height="58.2" fill="none" stroke="#c4c4c4" stroke-width="0.8"/>
<rect x="388.7" y="339.70" width="2.8" height="1.4" fill="#a0a0a0"/>
<rect x="392.0" y="340.10" width="1.3" height="0.6" fill="#888"/>
<rect x="388.7" y="328.56" width="2.8" height="1.4" fill="#a0a0a0"/>
<rect x="392.0" y="328.96" width="1.3" height="0.6" fill="#888"/>
<rect x="388.7" y="317.42" width="2.8" height="1.4" fill="#a0a0a0"/>
<rect x="392.0" y="317.82" width="1.3" height="0.6" fill="#888"/>
<rect x="388.7" y="306.28" width="2.8" height="1.4" fill="#a0a0a0"/>
<rect x="392.0" y="306.68" width="1.3" height="0.6" fill="#888"/>
<rect x="388.7" y="295.14" width="2.8" height="1.4" fill="#a0a0a0"/>
<rect x="392.0" y="295.54" width="1.3" height="0.6" fill="#888"/>
<rect x="388.7" y="284.00" width="2.8" height="1.4" fill="#a0a0a0"/>
<rect x="392.0" y="284.40" width="1.3" height="0.6" fill="#888"/>
<rect x="399.07" y="343.50" width="0.9" height="1.8" fill="#999"/>
<rect x="399.27" y="340.60" width="0.5" height="1.3" fill="#888"/>
<rect x="404.52" y="343.70" width="2.5" height="1.6" fill="#8c8c8c"/><rect x="407.02" y="343.00" width="1.0" height="1.2" fill="#a0a0a0"/>
<rect x="405.97" y="340.60" width="0.5" height="1.3" fill="#888"/>
<rect x="418.99" y="343.70" width="2.5" height="1.6" fill="#8c8c8c"/><rect x="421.49" y="343.00" width="1.0" height="1.2" fill="#a0a0a0"/>
<rect x="420.44" y="340.60" width="0.5" height="1.3" fill="#888"/>
<rect x="432.86" y="343.70" width="2.5" height="1.6" fill="#8c8c8c"/><rect x="435.36" y="343.00" width="1.0" height="1.2" fill="#a0a0a0"/>
<rect x="434.31" y="340.60" width="0.5" height="1.3" fill="#888"/>
<rect x="446.62" y="343.70" width="2.5" height="1.6" fill="#8c8c8c"/><rect x="449.12" y="343.00" width="1.0" height="1.2" fill="#a0a0a0"/>
<rect x="448.07" y="340.60" width="0.5" height="1.3" fill="#888"/>
<polygon points="393.80,340.50 393.80,306.00 395.00,303.00 396.50,298.50 398.00,292.50 399.20,289.00 400.10,287.10 401.00,289.00 402.60,292.60 404.30,301.00 405.30,306.00 406.50,312.00 407.50,318.00 408.50,326.00 409.40,332.70 410.40,338.00 411.40,340.50" fill="#a2a2a2"/>
<path d="M393.80,339.60 C394.33,339.37 395.87,338.70 397.00,338.20 C398.13,337.70 399.52,337.47 400.60,336.60 C401.68,335.73 402.52,334.30 403.50,333.00 C404.48,331.70 405.75,330.22 406.50,328.80 C407.25,327.38 407.52,326.13 408.00,324.50 C408.48,322.87 408.90,321.42 409.40,319.00 C409.90,316.58 410.50,313.25 411.00,310.00 C411.50,306.75 411.93,302.67 412.40,299.50 C412.87,296.33 413.32,293.22 413.80,291.00 C414.28,288.78 414.88,286.37 415.30,286.20 C415.72,286.03 415.97,288.12 416.30,290.00 C416.63,291.88 416.97,294.00 417.30,297.50 C417.63,301.00 417.98,306.43 418.30,311.00 C418.62,315.57 418.88,321.40 419.20,324.90 C419.52,328.40 419.87,330.05 420.20,332.00 C420.53,333.95 420.73,335.35 421.20,336.60 C421.67,337.85 422.45,338.85 423.00,339.50 C423.55,340.15 419.58,340.32 424.50,340.50 C429.42,340.68 447.83,340.58 452.50,340.60" fill="none" stroke="#000" stroke-width="1.25" stroke-linejoin="round"/>
<text transform="translate(385.6,316.5) rotate(-90)" font-size="6.5" text-anchor="middle" fill="#111">Counts</text>
<text transform="translate(407.0,356.2) scale(1,1.0)" font-size="9.2" text-anchor="start" font-weight="normal" fill="#0a0a0a" >CD132</text>
<line x1="456.2" y1="205.3" x2="465.8" y2="205.3" stroke="#666" stroke-width="1.0"/>
<line x1="456.2" y1="214.2" x2="465.8" y2="214.2" stroke="#2a2a2a" stroke-width="1.1"/>
<text transform="translate(468.2,208.5) scale(1,1.0)" font-size="8.1" fill="#0a0a0a">CD4<tspan font-size="5.1" dx="0.2" dy="1.6">PERI</tspan></text>
<text transform="translate(468.2,217.4) scale(1,1.0)" font-size="8.1" fill="#0a0a0a">CD4<tspan font-size="5.1" dx="0.2" dy="1.6">SPT</tspan></text>
<line x1="456.2" y1="297.20000000000005" x2="465.8" y2="297.20000000000005" stroke="#666" stroke-width="1.0"/>
<line x1="456.2" y1="306.1" x2="465.8" y2="306.1" stroke="#505050" stroke-width="1.1"/>
<text transform="translate(468.2,300.4) scale(1,1.0)" font-size="8.1" fill="#0a0a0a">CD4<tspan font-size="5.1" dx="0.2" dy="1.6">PERI</tspan></text>
<text transform="translate(468.2,309.3) scale(1,1.0)" font-size="8.1" fill="#0a0a0a">CD4<tspan font-size="5.1" dx="0.2" dy="1.6">SPT</tspan></text>
</g>
</svg>
</body></html>
